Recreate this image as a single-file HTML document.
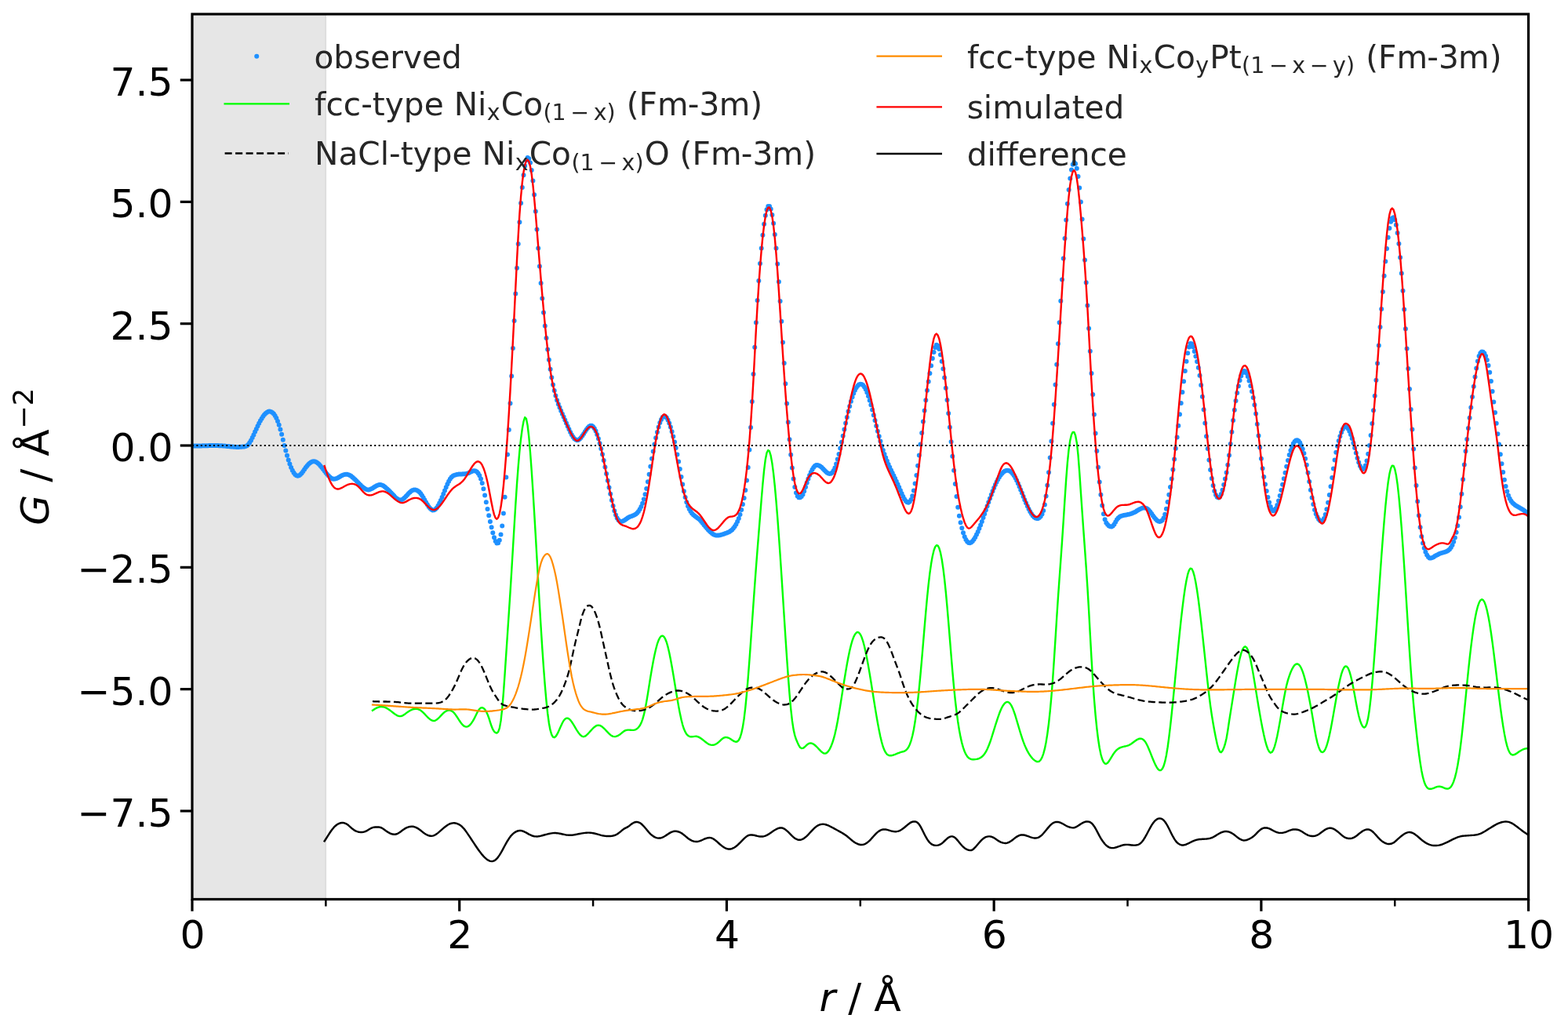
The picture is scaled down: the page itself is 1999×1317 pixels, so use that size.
<!DOCTYPE html>
<html lang="en"><head><meta charset="utf-8"><title>PDF fit</title>
<style>html,body{margin:0;padding:0;background:#fff}body{width:1999px;height:1317px;overflow:hidden}svg{display:block}text{font-family:"DejaVu Sans","Liberation Sans",sans-serif}</style>
</head><body>
<svg xmlns="http://www.w3.org/2000/svg" width="1999" height="1317" viewBox="0 0 1999 1317">
<rect width="1999" height="1317" fill="#fff"/>
<defs><clipPath id="ax"><rect x="245.0" y="18.0" width="1703.60" height="1128.50"/></clipPath></defs>
<rect x="245.0" y="18.0" width="170.36" height="1128.50" fill="#808080" fill-opacity="0.2"/>
<line x1="415.36" y1="18.0" x2="415.36" y2="1146.5" stroke="#808080" stroke-opacity="0.2" stroke-width="1.5"/>
<g clip-path="url(#ax)" fill="none" stroke-linejoin="round">
<path d="M245.0,568.3h.01M246.7,568.4h.01M248.4,568.4h.01M250.1,568.4h.01M251.8,568.4h.01M253.5,568.4h.01M255.2,568.4h.01M256.9,568.4h.01M258.6,568.3h.01M260.3,568.3h.01M262.0,568.3h.01M263.7,568.2h.01M265.4,568.2h.01M267.1,568.1h.01M268.9,568.1h.01M270.6,568.1h.01M272.3,568.1h.01M274.0,568.1h.01M275.7,568.1h.01M277.4,568.1h.01M279.1,568.2h.01M280.8,568.3h.01M282.5,568.3h.01M284.2,568.5h.01M285.9,568.6h.01M287.6,568.8h.01M289.3,568.9h.01M291.0,569.1h.01M292.7,569.3h.01M294.4,569.4h.01M296.1,569.6h.01M297.8,569.7h.01M299.5,569.8h.01M301.2,569.9h.01M302.9,569.9h.01M304.6,569.9h.01M306.3,569.8h.01M308.0,569.7h.01M309.7,569.6h.01M311.4,569.4h.01M313.1,569.1h.01M314.8,568.3h.01M316.6,566.7h.01M318.3,564.3h.01M320.0,561.4h.01M321.7,558.0h.01M323.4,554.4h.01M325.1,550.6h.01M326.8,546.9h.01M328.5,543.3h.01M330.2,539.8h.01M331.9,536.6h.01M333.6,533.7h.01M335.3,531.1h.01M337.0,528.8h.01M338.7,527.0h.01M340.4,525.7h.01M342.1,524.8h.01M343.8,524.6h.01M345.5,524.9h.01M347.2,525.9h.01M348.9,527.5h.01M350.6,529.9h.01M352.3,533.1h.01M354.0,537.1h.01M355.7,541.8h.01M357.4,547.4h.01M359.1,553.8h.01M360.8,560.8h.01M362.5,567.9h.01M364.3,574.6h.01M366.0,580.8h.01M367.7,586.5h.01M369.4,591.6h.01M371.1,596.0h.01M372.8,599.8h.01M374.5,602.8h.01M376.2,605.0h.01M377.9,606.3h.01M379.6,606.8h.01M381.3,606.3h.01M383.0,605.0h.01M384.7,603.2h.01M386.4,601.0h.01M388.1,598.6h.01M389.8,596.1h.01M391.5,593.9h.01M393.2,592.0h.01M394.9,590.4h.01M396.6,589.3h.01M398.3,588.5h.01M400.0,588.3h.01M401.7,588.5h.01M403.4,589.3h.01M405.1,590.5h.01M406.8,592.1h.01M408.5,594.0h.01M410.2,596.0h.01M412.0,598.2h.01M413.7,600.5h.01M415.4,602.7h.01M417.1,604.7h.01M418.8,606.6h.01M420.5,608.3h.01M422.2,609.6h.01M423.9,610.4h.01M425.6,610.8h.01M427.3,610.6h.01M429.0,610.0h.01M430.7,609.2h.01M432.4,608.2h.01M434.1,607.2h.01M435.8,606.3h.01M437.5,605.5h.01M439.2,605.0h.01M440.9,604.7h.01M442.6,604.8h.01M444.3,605.2h.01M446.0,606.0h.01M447.7,607.1h.01M449.4,608.4h.01M451.1,609.9h.01M452.8,611.5h.01M454.5,613.3h.01M456.2,615.1h.01M457.9,616.8h.01M459.7,618.6h.01M461.4,620.2h.01M463.1,621.6h.01M464.8,622.8h.01M466.5,623.7h.01M468.2,624.3h.01M469.9,624.4h.01M471.6,624.1h.01M473.3,623.3h.01M475.0,622.4h.01M476.7,621.3h.01M478.4,620.3h.01M480.1,619.3h.01M481.8,618.5h.01M483.5,618.1h.01M485.2,618.0h.01M486.9,618.5h.01M488.6,619.3h.01M490.3,620.5h.01M492.0,621.9h.01M493.7,623.4h.01M495.4,625.0h.01M497.1,626.7h.01M498.8,628.5h.01M500.5,630.3h.01M502.2,632.1h.01M503.9,633.9h.01M505.7,635.4h.01M507.4,636.6h.01M509.1,637.3h.01M510.8,637.4h.01M512.5,636.9h.01M514.2,635.9h.01M515.9,634.4h.01M517.6,632.7h.01M519.3,630.9h.01M521.0,629.1h.01M522.7,627.5h.01M524.4,626.1h.01M526.1,625.1h.01M527.8,624.5h.01M529.5,624.4h.01M531.2,624.9h.01M532.9,625.9h.01M534.6,627.3h.01M536.3,629.3h.01M538.0,631.7h.01M539.7,634.5h.01M541.4,637.5h.01M543.1,640.5h.01M544.8,643.3h.01M546.5,645.9h.01M548.2,648.1h.01M549.9,649.6h.01M551.6,650.4h.01M553.4,650.3h.01M555.1,649.3h.01M556.8,647.4h.01M558.5,644.7h.01M560.2,641.5h.01M561.9,637.9h.01M563.6,633.9h.01M565.3,629.7h.01M567.0,625.5h.01M568.7,621.3h.01M570.4,617.3h.01M572.1,613.8h.01M573.8,610.7h.01M575.5,608.4h.01M577.2,606.9h.01M578.9,606.0h.01M580.6,605.4h.01M582.3,605.0h.01M584.0,604.8h.01M585.7,604.6h.01M587.4,604.5h.01M589.1,604.4h.01M590.8,604.3h.01M592.5,604.2h.01M594.2,604.0h.01M595.9,603.6h.01M597.6,602.9h.01M599.3,602.1h.01M601.1,601.3h.01M602.8,600.6h.01M604.5,600.3h.01M606.2,600.6h.01M607.9,601.5h.01M609.6,603.4h.01M611.3,606.3h.01M613.0,610.5h.01M614.7,616.1h.01M616.4,623.3h.01M618.1,631.5h.01M619.8,640.3h.01M621.5,649.0h.01M623.2,657.2h.01M624.9,664.9h.01M626.6,672.2h.01M628.3,679.2h.01M630.0,685.3h.01M631.7,689.9h.01M633.4,692.5h.01M635.1,692.3h.01M636.8,688.8h.01M638.5,681.6h.01M640.2,670.4h.01M641.9,654.5h.01M643.6,633.8h.01M645.3,608.5h.01M647.0,579.6h.01M648.8,547.9h.01M650.5,514.3h.01M652.2,479.5h.01M653.9,444.1h.01M655.6,408.9h.01M657.3,374.5h.01M659.0,341.7h.01M660.7,311.0h.01M662.4,283.3h.01M664.1,259.1h.01M665.8,239.0h.01M667.5,223.2h.01M669.2,211.6h.01M670.9,204.2h.01M672.6,201.1h.01M674.3,202.2h.01M676.0,207.5h.01M677.7,216.9h.01M679.4,230.6h.01M681.1,248.3h.01M682.8,269.4h.01M684.5,292.6h.01M686.2,316.4h.01M687.9,339.5h.01M689.6,360.9h.01M691.3,380.5h.01M693.0,398.6h.01M694.8,415.4h.01M696.5,431.0h.01M698.2,445.5h.01M699.9,458.8h.01M701.6,470.8h.01M703.3,481.3h.01M705.0,490.4h.01M706.7,498.1h.01M708.4,504.6h.01M710.1,510.2h.01M711.8,515.2h.01M713.5,519.6h.01M715.2,523.8h.01M716.9,527.7h.01M718.6,531.6h.01M720.3,535.5h.01M722.0,539.5h.01M723.7,543.4h.01M725.4,547.3h.01M727.1,550.9h.01M728.8,554.2h.01M730.5,557.0h.01M732.2,559.2h.01M733.9,560.6h.01M735.6,561.2h.01M737.3,560.9h.01M739.0,559.7h.01M740.7,557.9h.01M742.5,555.6h.01M744.2,553.0h.01M745.9,550.3h.01M747.6,547.8h.01M749.3,545.5h.01M751.0,543.7h.01M752.7,542.7h.01M754.4,542.7h.01M756.1,543.9h.01M757.8,546.3h.01M759.5,549.6h.01M761.2,554.0h.01M762.9,559.2h.01M764.6,565.2h.01M766.3,571.9h.01M768.0,579.2h.01M769.7,587.1h.01M771.4,595.4h.01M773.1,604.0h.01M774.8,612.8h.01M776.5,621.5h.01M778.2,629.8h.01M779.9,637.7h.01M781.6,644.9h.01M783.3,651.3h.01M785.0,656.5h.01M786.7,660.4h.01M788.4,663.0h.01M790.2,664.5h.01M791.9,664.9h.01M793.6,664.6h.01M795.3,663.8h.01M797.0,662.7h.01M798.7,661.4h.01M800.4,660.2h.01M802.1,659.3h.01M803.8,658.6h.01M805.5,658.0h.01M807.2,657.3h.01M808.9,656.5h.01M810.6,655.4h.01M812.3,654.0h.01M814.0,652.0h.01M815.7,649.3h.01M817.4,646.0h.01M819.1,641.8h.01M820.8,636.6h.01M822.5,630.3h.01M824.2,622.9h.01M825.9,614.2h.01M827.6,604.7h.01M829.3,594.7h.01M831.0,584.8h.01M832.7,575.4h.01M834.4,566.5h.01M836.1,558.3h.01M837.9,550.9h.01M839.6,544.5h.01M841.3,539.1h.01M843.0,534.9h.01M844.7,532.1h.01M846.4,530.7h.01M848.1,530.9h.01M849.8,532.5h.01M851.5,535.5h.01M853.2,539.5h.01M854.9,544.5h.01M856.6,550.2h.01M858.3,556.6h.01M860.0,563.5h.01M861.7,571.1h.01M863.4,579.5h.01M865.1,588.5h.01M866.8,598.1h.01M868.5,607.9h.01M870.2,617.4h.01M871.9,626.2h.01M873.6,634.0h.01M875.3,640.2h.01M877.0,645.2h.01M878.7,649.1h.01M880.4,652.1h.01M882.1,654.4h.01M883.8,656.3h.01M885.6,657.8h.01M887.3,659.1h.01M889.0,660.3h.01M890.7,661.6h.01M892.4,663.1h.01M894.1,664.9h.01M895.8,667.0h.01M897.5,669.2h.01M899.2,671.3h.01M900.9,673.3h.01M902.6,675.2h.01M904.3,677.0h.01M906.0,678.6h.01M907.7,680.0h.01M909.4,681.2h.01M911.1,682.0h.01M912.8,682.5h.01M914.5,682.6h.01M916.2,682.5h.01M917.9,682.2h.01M919.6,681.7h.01M921.3,681.2h.01M923.0,680.7h.01M924.7,680.1h.01M926.4,679.5h.01M928.1,678.8h.01M929.8,678.0h.01M931.6,676.8h.01M933.3,675.4h.01M935.0,673.6h.01M936.7,671.3h.01M938.4,668.5h.01M940.1,665.1h.01M941.8,661.0h.01M943.5,656.0h.01M945.2,650.0h.01M946.9,643.0h.01M948.6,634.9h.01M950.3,625.1h.01M952.0,612.6h.01M953.7,595.9h.01M955.4,573.6h.01M957.1,545.0h.01M958.8,512.0h.01M960.5,477.1h.01M962.2,442.8h.01M963.9,411.3h.01M965.6,383.1h.01M967.3,358.1h.01M969.0,336.0h.01M970.7,316.6h.01M972.4,299.8h.01M974.1,285.8h.01M975.8,274.8h.01M977.5,267.2h.01M979.3,263.1h.01M981.0,262.9h.01M982.7,266.5h.01M984.4,273.9h.01M986.1,284.8h.01M987.8,299.1h.01M989.5,316.4h.01M991.2,336.6h.01M992.9,359.3h.01M994.6,383.9h.01M996.3,409.8h.01M998.0,436.4h.01M999.7,463.1h.01M1001.4,489.3h.01M1003.1,514.5h.01M1004.8,538.3h.01M1006.5,560.2h.01M1008.2,579.7h.01M1009.9,596.5h.01M1011.6,610.4h.01M1013.3,621.0h.01M1015.0,628.3h.01M1016.7,632.4h.01M1018.4,634.2h.01M1020.1,634.3h.01M1021.8,633.1h.01M1023.5,630.5h.01M1025.2,626.2h.01M1027.0,621.0h.01M1028.7,615.6h.01M1030.4,610.6h.01M1032.1,606.1h.01M1033.8,602.1h.01M1035.5,598.7h.01M1037.2,596.0h.01M1038.9,594.1h.01M1040.6,593.1h.01M1042.3,592.9h.01M1044.0,593.4h.01M1045.7,594.4h.01M1047.4,595.8h.01M1049.1,597.5h.01M1050.8,599.3h.01M1052.5,601.0h.01M1054.2,602.4h.01M1055.9,603.5h.01M1057.6,604.0h.01M1059.3,603.7h.01M1061.0,602.4h.01M1062.7,600.0h.01M1064.4,596.4h.01M1066.1,591.5h.01M1067.8,585.6h.01M1069.5,578.9h.01M1071.2,571.5h.01M1072.9,563.7h.01M1074.7,555.7h.01M1076.4,547.6h.01M1078.1,539.6h.01M1079.8,531.9h.01M1081.5,524.6h.01M1083.2,517.9h.01M1084.9,511.7h.01M1086.6,506.2h.01M1088.3,501.5h.01M1090.0,497.5h.01M1091.7,494.3h.01M1093.4,491.9h.01M1095.1,490.3h.01M1096.8,489.7h.01M1098.5,489.9h.01M1100.2,491.0h.01M1101.9,493.2h.01M1103.6,496.2h.01M1105.3,500.2h.01M1107.0,505.0h.01M1108.7,510.4h.01M1110.4,516.3h.01M1112.1,522.6h.01M1113.8,529.3h.01M1115.5,536.1h.01M1117.2,542.9h.01M1118.9,549.7h.01M1120.7,556.3h.01M1122.4,562.6h.01M1124.1,568.5h.01M1125.8,573.9h.01M1127.5,578.9h.01M1129.2,583.5h.01M1130.9,587.8h.01M1132.6,591.9h.01M1134.3,595.7h.01M1136.0,599.4h.01M1137.7,603.0h.01M1139.4,606.6h.01M1141.1,610.1h.01M1142.8,613.7h.01M1144.5,617.4h.01M1146.2,621.3h.01M1147.9,625.3h.01M1149.6,629.3h.01M1151.3,633.0h.01M1153.0,636.2h.01M1154.7,638.7h.01M1156.4,640.3h.01M1158.1,640.7h.01M1159.8,639.6h.01M1161.5,636.9h.01M1163.2,632.3h.01M1164.9,625.5h.01M1166.6,616.6h.01M1168.4,606.0h.01M1170.1,593.8h.01M1171.8,580.5h.01M1173.5,566.5h.01M1175.2,552.0h.01M1176.9,537.6h.01M1178.6,523.5h.01M1180.3,510.2h.01M1182.0,497.8h.01M1183.7,486.4h.01M1185.4,475.9h.01M1187.1,466.2h.01M1188.8,457.1h.01M1190.5,449.0h.01M1192.2,442.9h.01M1193.9,439.8h.01M1195.6,440.7h.01M1197.3,445.1h.01M1199.0,452.2h.01M1200.7,460.8h.01M1202.4,470.3h.01M1204.1,481.4h.01M1205.8,494.7h.01M1207.5,510.1h.01M1209.2,526.9h.01M1210.9,544.7h.01M1212.6,563.2h.01M1214.3,581.7h.01M1216.1,599.8h.01M1217.8,617.1h.01M1219.5,632.9h.01M1221.2,646.7h.01M1222.9,657.8h.01M1224.6,666.3h.01M1226.3,673.2h.01M1228.0,679.2h.01M1229.7,684.2h.01M1231.4,688.0h.01M1233.1,690.5h.01M1234.8,691.9h.01M1236.5,692.2h.01M1238.2,691.5h.01M1239.9,690.0h.01M1241.6,687.8h.01M1243.3,685.0h.01M1245.0,681.6h.01M1246.7,677.9h.01M1248.4,673.8h.01M1250.1,669.5h.01M1251.8,664.9h.01M1253.5,660.1h.01M1255.2,655.2h.01M1256.9,650.2h.01M1258.6,645.3h.01M1260.3,640.3h.01M1262.0,635.5h.01M1263.8,630.8h.01M1265.5,626.3h.01M1267.2,622.0h.01M1268.9,618.1h.01M1270.6,614.5h.01M1272.3,611.2h.01M1274.0,608.3h.01M1275.7,605.8h.01M1277.4,603.7h.01M1279.1,602.0h.01M1280.8,600.8h.01M1282.5,600.0h.01M1284.2,599.7h.01M1285.9,600.0h.01M1287.6,600.7h.01M1289.3,602.0h.01M1291.0,603.9h.01M1292.7,606.3h.01M1294.4,609.3h.01M1296.1,612.6h.01M1297.8,616.3h.01M1299.5,620.3h.01M1301.2,624.4h.01M1302.9,628.6h.01M1304.6,632.9h.01M1306.3,637.2h.01M1308.0,641.3h.01M1309.8,645.2h.01M1311.5,648.9h.01M1313.2,652.2h.01M1314.9,655.0h.01M1316.6,657.4h.01M1318.3,659.3h.01M1320.0,660.5h.01M1321.7,661.1h.01M1323.4,660.9h.01M1325.1,660.0h.01M1326.8,658.3h.01M1328.5,655.5h.01M1330.2,650.9h.01M1331.9,643.4h.01M1333.6,632.6h.01M1335.3,618.8h.01M1337.0,602.3h.01M1338.7,583.4h.01M1340.4,562.5h.01M1342.1,539.8h.01M1343.8,515.7h.01M1345.5,490.6h.01M1347.2,464.7h.01M1348.9,438.2h.01M1350.6,411.2h.01M1352.3,383.8h.01M1354.0,356.4h.01M1355.7,329.6h.01M1357.5,304.0h.01M1359.2,280.5h.01M1360.9,259.7h.01M1362.6,241.9h.01M1364.3,227.4h.01M1366.0,216.6h.01M1367.7,209.7h.01M1369.4,207.0h.01M1371.1,208.7h.01M1372.8,214.8h.01M1374.5,225.0h.01M1376.2,239.4h.01M1377.9,257.6h.01M1379.6,279.5h.01M1381.3,304.4h.01M1383.0,331.6h.01M1384.7,360.2h.01M1386.4,389.5h.01M1388.1,418.8h.01M1389.8,447.8h.01M1391.5,476.0h.01M1393.2,503.0h.01M1394.9,528.6h.01M1396.6,552.6h.01M1398.3,575.1h.01M1400.0,595.7h.01M1401.7,614.4h.01M1403.4,630.8h.01M1405.2,644.6h.01M1406.9,655.2h.01M1408.6,662.3h.01M1410.3,666.4h.01M1412.0,668.8h.01M1413.7,670.4h.01M1415.4,671.3h.01M1417.1,671.4h.01M1418.8,670.5h.01M1420.5,668.5h.01M1422.2,665.5h.01M1423.9,662.5h.01M1425.6,660.4h.01M1427.3,659.0h.01M1429.0,658.1h.01M1430.7,657.6h.01M1432.4,657.1h.01M1434.1,656.7h.01M1435.8,656.4h.01M1437.5,656.0h.01M1439.2,655.7h.01M1440.9,655.2h.01M1442.6,654.7h.01M1444.3,654.1h.01M1446.0,653.3h.01M1447.7,652.4h.01M1449.4,651.3h.01M1451.1,650.3h.01M1452.9,649.3h.01M1454.6,648.4h.01M1456.3,647.8h.01M1458.0,647.5h.01M1459.7,647.5h.01M1461.4,648.0h.01M1463.1,649.1h.01M1464.8,650.7h.01M1466.5,652.8h.01M1468.2,655.1h.01M1469.9,657.5h.01M1471.6,659.8h.01M1473.3,661.8h.01M1475.0,663.4h.01M1476.7,664.5h.01M1478.4,664.9h.01M1480.1,664.5h.01M1481.8,663.3h.01M1483.5,660.6h.01M1485.2,655.8h.01M1486.9,648.7h.01M1488.6,640.0h.01M1490.3,630.7h.01M1492.0,621.1h.01M1493.7,610.6h.01M1495.4,598.7h.01M1497.1,585.6h.01M1498.8,571.8h.01M1500.6,557.4h.01M1502.3,542.8h.01M1504.0,528.3h.01M1505.7,513.9h.01M1507.4,499.9h.01M1509.1,486.2h.01M1510.8,473.1h.01M1512.5,460.8h.01M1514.2,450.3h.01M1515.9,442.5h.01M1517.6,438.1h.01M1519.3,438.2h.01M1521.0,442.2h.01M1522.7,448.0h.01M1524.4,454.2h.01M1526.1,461.1h.01M1527.8,468.8h.01M1529.5,478.7h.01M1531.2,491.0h.01M1532.9,505.7h.01M1534.6,522.2h.01M1536.3,539.4h.01M1538.0,556.3h.01M1539.7,572.1h.01M1541.4,586.4h.01M1543.1,599.1h.01M1544.8,610.0h.01M1546.6,619.0h.01M1548.3,625.9h.01M1550.0,630.9h.01M1551.7,633.8h.01M1553.4,634.6h.01M1555.1,633.4h.01M1556.8,630.0h.01M1558.5,624.7h.01M1560.2,618.0h.01M1561.9,610.6h.01M1563.6,602.5h.01M1565.3,592.7h.01M1567.0,580.4h.01M1568.7,566.0h.01M1570.4,550.8h.01M1572.1,536.0h.01M1573.8,522.8h.01M1575.5,511.1h.01M1577.2,501.0h.01M1578.9,492.3h.01M1580.6,485.1h.01M1582.3,479.3h.01M1584.0,475.2h.01M1585.7,473.1h.01M1587.4,473.3h.01M1589.1,475.8h.01M1590.8,480.1h.01M1592.5,485.6h.01M1594.3,491.9h.01M1596.0,498.9h.01M1597.7,506.9h.01M1599.4,516.3h.01M1601.1,527.5h.01M1602.8,540.8h.01M1604.5,555.5h.01M1606.2,570.5h.01M1607.9,584.7h.01M1609.6,597.2h.01M1611.3,608.1h.01M1613.0,617.6h.01M1614.7,626.1h.01M1616.4,633.9h.01M1618.1,640.6h.01M1619.8,646.0h.01M1621.5,649.7h.01M1623.2,651.4h.01M1624.9,650.9h.01M1626.6,648.2h.01M1628.3,644.0h.01M1630.0,638.4h.01M1631.7,631.9h.01M1633.4,624.9h.01M1635.1,617.7h.01M1636.8,610.3h.01M1638.5,602.7h.01M1640.2,594.8h.01M1642.0,587.1h.01M1643.7,580.1h.01M1645.4,574.2h.01M1647.1,569.4h.01M1648.8,565.6h.01M1650.5,563.0h.01M1652.2,561.6h.01M1653.9,561.3h.01M1655.6,562.3h.01M1657.3,564.5h.01M1659.0,567.9h.01M1660.7,572.4h.01M1662.4,578.0h.01M1664.1,584.7h.01M1665.8,592.8h.01M1667.5,602.8h.01M1669.2,613.9h.01M1670.9,624.8h.01M1672.6,634.6h.01M1674.3,643.1h.01M1676.0,650.0h.01M1677.7,655.2h.01M1679.4,659.1h.01M1681.1,661.9h.01M1682.8,663.7h.01M1684.5,664.5h.01M1686.2,663.8h.01M1687.9,661.0h.01M1689.7,656.1h.01M1691.4,649.2h.01M1693.1,640.7h.01M1694.8,631.0h.01M1696.5,620.2h.01M1698.2,608.9h.01M1699.9,597.4h.01M1701.6,586.5h.01M1703.3,576.7h.01M1705.0,568.7h.01M1706.7,562.1h.01M1708.4,556.3h.01M1710.1,551.3h.01M1711.8,547.3h.01M1713.5,544.8h.01M1715.2,543.9h.01M1716.9,544.6h.01M1718.6,546.6h.01M1720.3,549.7h.01M1722.0,553.9h.01M1723.7,559.0h.01M1725.4,564.8h.01M1727.1,571.1h.01M1728.8,577.6h.01M1730.5,583.9h.01M1732.2,589.5h.01M1733.9,594.1h.01M1735.6,597.1h.01M1737.4,598.2h.01M1739.1,597.1h.01M1740.8,593.6h.01M1742.5,587.5h.01M1744.2,578.8h.01M1745.9,567.9h.01M1747.6,554.9h.01M1749.3,540.0h.01M1751.0,523.2h.01M1752.7,504.8h.01M1754.4,484.7h.01M1756.1,463.2h.01M1757.8,440.4h.01M1759.5,417.1h.01M1761.2,394.0h.01M1762.9,371.9h.01M1764.6,351.7h.01M1766.3,333.3h.01M1768.0,317.0h.01M1769.7,302.7h.01M1771.4,291.1h.01M1773.1,282.8h.01M1774.8,278.2h.01M1776.5,277.3h.01M1778.2,280.2h.01M1779.9,286.7h.01M1781.6,296.9h.01M1783.4,310.8h.01M1785.1,328.2h.01M1786.8,348.4h.01M1788.5,370.8h.01M1790.2,394.6h.01M1791.9,419.3h.01M1793.6,444.5h.01M1795.3,470.1h.01M1797.0,495.9h.01M1798.7,521.9h.01M1800.4,547.6h.01M1802.1,572.6h.01M1803.8,596.5h.01M1805.5,618.9h.01M1807.2,639.3h.01M1808.9,657.2h.01M1810.6,672.3h.01M1812.3,684.1h.01M1814.0,692.6h.01M1815.7,698.8h.01M1817.4,703.7h.01M1819.1,707.5h.01M1820.8,710.1h.01M1822.5,711.4h.01M1824.2,711.6h.01M1825.9,711.1h.01M1827.6,710.2h.01M1829.3,709.1h.01M1831.1,708.1h.01M1832.8,707.2h.01M1834.5,706.3h.01M1836.2,705.6h.01M1837.9,704.9h.01M1839.6,704.4h.01M1841.3,703.9h.01M1843.0,703.5h.01M1844.7,702.8h.01M1846.4,701.8h.01M1848.1,700.2h.01M1849.8,698.0h.01M1851.5,694.9h.01M1853.2,690.7h.01M1854.9,685.4h.01M1856.6,678.7h.01M1858.3,670.3h.01M1860.0,659.6h.01M1861.7,646.2h.01M1863.4,629.7h.01M1865.1,611.2h.01M1866.8,592.5h.01M1868.5,575.2h.01M1870.2,559.9h.01M1871.9,545.9h.01M1873.6,532.7h.01M1875.3,519.5h.01M1877.0,506.1h.01M1878.8,492.8h.01M1880.5,480.4h.01M1882.2,469.4h.01M1883.9,460.5h.01M1885.6,454.1h.01M1887.3,450.2h.01M1889.0,448.5h.01M1890.7,448.7h.01M1892.4,450.6h.01M1894.1,454.0h.01M1895.8,459.0h.01M1897.5,465.9h.01M1899.2,474.8h.01M1900.9,485.9h.01M1902.6,498.9h.01M1904.3,512.5h.01M1906.0,526.0h.01M1907.7,539.7h.01M1909.4,553.2h.01M1911.1,566.5h.01M1912.8,579.2h.01M1914.5,591.2h.01M1916.2,602.1h.01M1917.9,611.8h.01M1919.6,620.1h.01M1921.3,626.6h.01M1923.0,631.8h.01M1924.7,635.7h.01M1926.5,638.7h.01M1928.2,640.9h.01M1929.9,642.5h.01M1931.6,643.9h.01M1933.3,645.1h.01M1935.0,646.1h.01M1936.7,647.1h.01M1938.4,648.1h.01M1940.1,649.0h.01M1941.8,650.1h.01M1943.5,651.3h.01M1945.2,652.6h.01M1946.9,654.1h.01M1948.6,655.9h.01" stroke="#1E90FF" stroke-width="6.0" stroke-linecap="round"/>
<path d="M474.99,905.82 476.69,904.62 478.39,903.53 480.10,902.59 481.80,901.83 483.50,901.28 485.21,900.98 486.91,900.95 488.61,901.20 490.32,901.70 492.02,902.42 493.73,903.33 495.43,904.40 497.13,905.60 498.84,906.89 500.54,908.24 502.24,909.56 503.95,910.78 505.65,911.83 507.35,912.62 509.06,913.08 510.76,913.14 512.47,912.72 514.17,911.85 515.87,910.69 517.58,909.41 519.28,908.15 520.98,907.00 522.69,905.98 524.39,905.12 526.09,904.44 527.80,903.98 529.50,903.75 531.20,903.79 532.91,904.12 534.61,904.76 536.32,905.75 538.02,907.08 539.72,908.67 541.43,910.43 543.13,912.25 544.83,914.04 546.54,915.69 548.24,917.11 549.94,918.21 551.65,918.87 553.35,919.01 555.06,918.55 556.76,917.55 558.46,916.15 560.17,914.49 561.87,912.68 563.57,910.86 565.28,909.16 566.98,907.72 568.68,906.61 570.39,905.88 572.09,905.55 573.79,905.66 575.50,906.25 577.20,907.34 578.91,908.96 580.61,911.08 582.31,913.53 584.02,916.15 585.72,918.78 587.42,921.27 589.13,923.43 590.83,925.12 592.53,926.21 594.24,926.66 595.94,926.43 597.65,925.53 599.35,924.02 601.05,921.94 602.76,919.36 604.46,916.34 606.16,912.93 607.87,909.40 609.57,906.22 611.27,903.84 612.98,902.48 614.68,902.15 616.38,902.81 618.09,904.47 619.79,907.09 621.50,910.68 623.20,915.21 624.90,920.54 626.61,925.82 628.31,929.95 630.01,932.58 631.72,934.04 633.42,934.54 635.12,933.13 636.83,928.39 638.53,918.89 640.24,903.40 641.94,882.64 643.64,858.51 645.35,832.93 647.05,807.48 648.75,782.03 650.46,755.95 652.16,728.64 653.86,700.18 655.57,671.53 657.27,643.75 658.97,617.86 660.68,594.91 662.38,575.46 664.09,559.44 665.79,546.75 667.49,537.27 669.20,532.02 670.90,533.75 672.60,542.51 674.31,557.21 676.01,576.73 677.71,599.97 679.42,625.84 681.12,653.61 682.83,682.67 684.53,712.45 686.23,742.35 687.94,771.77 689.64,800.13 691.34,826.85 693.05,851.48 694.75,873.67 696.45,893.04 698.16,909.25 699.86,921.92 701.56,930.92 703.27,936.65 704.97,939.58 706.68,940.21 708.38,939.03 710.08,936.50 711.79,933.13 713.49,929.30 715.19,925.39 716.90,921.77 718.60,918.78 720.30,916.74 722.01,915.70 723.71,915.64 725.42,916.49 727.12,918.08 728.82,920.25 730.53,922.84 732.23,925.65 733.93,928.54 735.64,931.33 737.34,933.90 739.04,936.11 740.75,937.84 742.45,938.93 744.15,939.21 745.86,938.67 747.56,937.48 749.27,935.87 750.97,934.04 752.67,932.14 754.38,930.25 756.08,928.48 757.78,926.93 759.49,925.70 761.19,924.88 762.89,924.58 764.60,924.86 766.30,925.64 768.01,926.82 769.71,928.31 771.41,930.01 773.12,931.82 774.82,933.65 776.52,935.39 778.23,936.92 779.93,938.12 781.63,938.87 783.34,939.14 785.04,938.97 786.74,938.43 788.45,937.57 790.15,936.44 791.86,935.11 793.56,933.71 795.26,932.41 796.97,931.41 798.67,930.84 800.37,930.60 802.08,930.60 803.78,930.71 805.48,930.83 807.19,930.83 808.89,930.60 810.60,930.03 812.30,929.00 814.00,927.40 815.71,925.08 817.41,921.81 819.11,917.35 820.82,911.44 822.52,903.84 824.22,894.63 825.93,884.37 827.63,873.64 829.33,863.02 831.04,852.90 832.74,843.48 834.45,834.93 836.15,827.44 837.85,821.19 839.56,816.34 841.26,812.94 842.96,811.03 844.67,810.62 846.37,811.76 848.07,814.47 849.78,818.77 851.48,824.67 853.19,831.97 854.89,840.41 856.59,849.73 858.30,859.67 860.00,869.98 861.70,880.38 863.41,890.60 865.11,900.35 866.81,909.37 868.52,917.37 870.22,924.08 871.92,929.33 873.63,933.24 875.33,936.01 877.04,937.81 878.74,938.84 880.44,939.27 882.15,939.30 883.85,939.11 885.55,938.88 887.26,938.79 888.96,939.04 890.66,939.66 892.37,940.58 894.07,941.73 895.78,943.04 897.48,944.41 899.18,945.78 900.89,947.06 902.59,948.19 904.29,949.08 906.00,949.66 907.70,949.89 909.40,949.79 911.11,949.35 912.81,948.60 914.51,947.54 916.22,946.18 917.92,944.57 919.63,942.92 921.33,941.49 923.03,940.51 924.74,940.07 926.44,940.09 928.14,940.51 929.85,941.25 931.55,942.25 933.25,943.41 934.96,944.56 936.66,945.43 938.37,945.75 940.07,945.27 941.77,943.62 943.48,940.34 945.18,934.98 946.88,927.08 948.59,916.19 950.29,901.89 951.99,884.37 953.70,864.23 955.40,842.08 957.10,818.55 958.81,794.25 960.51,769.79 962.22,745.79 963.92,722.83 965.62,700.87 967.33,679.44 969.03,658.08 970.73,636.74 972.44,616.62 974.14,599.11 975.84,585.64 977.55,577.29 979.25,573.98 980.96,575.31 982.66,580.92 984.36,590.40 986.07,603.38 987.77,619.47 989.47,638.28 991.18,659.42 992.88,682.49 994.58,707.10 996.29,732.85 997.99,759.30 999.69,786.00 1001.40,812.49 1003.10,838.21 1004.81,862.44 1006.51,884.46 1008.21,903.54 1009.92,918.96 1011.62,930.12 1013.32,937.63 1015.03,942.76 1016.73,946.78 1018.43,950.45 1020.14,953.04 1021.84,954.09 1023.55,953.90 1025.25,952.86 1026.95,951.34 1028.66,949.71 1030.36,948.36 1032.06,947.61 1033.77,947.48 1035.47,947.89 1037.17,948.76 1038.88,949.99 1040.58,951.51 1042.28,953.24 1043.99,955.08 1045.69,956.92 1047.40,958.58 1049.10,959.87 1050.80,960.60 1052.51,960.59 1054.21,959.67 1055.91,957.89 1057.62,955.29 1059.32,951.88 1061.02,947.56 1062.73,942.24 1064.43,935.82 1066.14,928.21 1067.84,919.46 1069.54,909.81 1071.25,899.52 1072.95,888.83 1074.65,878.00 1076.36,867.30 1078.06,856.95 1079.76,847.14 1081.47,838.04 1083.17,829.84 1084.87,822.71 1086.58,816.78 1088.28,812.11 1089.99,808.72 1091.69,806.66 1093.39,805.96 1095.10,806.65 1096.80,808.76 1098.50,812.33 1100.21,817.37 1101.91,823.74 1103.61,831.28 1105.32,839.79 1107.02,849.12 1108.73,859.09 1110.43,869.51 1112.13,880.19 1113.84,890.94 1115.54,901.57 1117.24,911.88 1118.95,921.68 1120.65,930.78 1122.35,939.00 1124.06,946.12 1125.76,951.97 1127.46,956.41 1129.17,959.57 1130.87,961.64 1132.58,962.81 1134.28,963.30 1135.98,963.29 1137.69,962.97 1139.39,962.48 1141.09,961.86 1142.80,961.17 1144.50,960.46 1146.20,959.77 1147.91,959.17 1149.61,958.70 1151.32,958.28 1153.02,957.70 1154.72,956.73 1156.43,955.14 1158.13,952.72 1159.83,949.21 1161.54,944.39 1163.24,938.03 1164.94,929.90 1166.65,919.82 1168.35,907.79 1170.05,893.84 1171.76,877.98 1173.46,860.25 1175.17,840.96 1176.87,820.79 1178.57,800.45 1180.28,780.62 1181.98,762.01 1183.68,745.32 1185.39,730.90 1187.09,718.83 1188.79,709.16 1190.50,701.95 1192.20,697.26 1193.91,695.14 1195.61,695.64 1197.31,698.80 1199.02,704.67 1200.72,713.30 1202.42,724.71 1204.13,738.73 1205.83,755.17 1207.53,773.78 1209.24,793.98 1210.94,814.96 1212.64,835.99 1214.35,856.36 1216.05,875.34 1217.76,892.26 1219.46,907.00 1221.16,919.71 1222.87,930.53 1224.57,939.62 1226.27,947.13 1227.98,953.20 1229.68,958.00 1231.38,961.66 1233.09,964.34 1234.79,966.19 1236.50,967.35 1238.20,967.97 1239.90,968.20 1241.61,968.19 1243.31,968.08 1245.01,967.87 1246.72,967.50 1248.42,966.91 1250.12,966.03 1251.83,964.80 1253.53,963.14 1255.23,961.01 1256.94,958.33 1258.64,955.04 1260.35,951.08 1262.05,946.53 1263.75,941.52 1265.46,936.20 1267.16,930.71 1268.86,925.19 1270.57,919.77 1272.27,914.60 1273.97,909.81 1275.68,905.52 1277.38,901.86 1279.09,898.91 1280.79,896.73 1282.49,895.37 1284.20,894.90 1285.90,895.37 1287.60,896.84 1289.31,899.36 1291.01,902.93 1292.71,907.38 1294.42,912.48 1296.12,918.05 1297.82,923.86 1299.53,929.72 1301.23,935.41 1302.94,940.73 1304.64,945.57 1306.34,949.95 1308.05,953.87 1309.75,957.35 1311.45,960.42 1313.16,963.09 1314.86,965.38 1316.56,967.30 1318.27,968.88 1319.97,970.14 1321.68,970.97 1323.38,971.17 1325.08,970.51 1326.79,968.75 1328.49,965.67 1330.19,961.05 1331.90,954.65 1333.60,946.24 1335.30,935.60 1337.01,922.50 1338.71,906.70 1340.41,887.99 1342.12,866.13 1343.82,841.15 1345.53,814.32 1347.23,787.23 1348.93,761.46 1350.64,737.39 1352.34,713.92 1354.04,689.86 1355.75,664.13 1357.45,637.41 1359.15,611.92 1360.86,589.92 1362.56,573.14 1364.27,561.42 1365.97,554.20 1367.67,550.88 1369.38,551.02 1371.08,555.20 1372.78,564.46 1374.49,579.85 1376.19,601.91 1377.89,627.31 1379.60,652.01 1381.30,675.80 1383.00,699.36 1384.71,723.33 1386.41,749.07 1388.12,778.28 1389.82,809.32 1391.52,839.85 1393.23,867.58 1394.93,891.49 1396.63,911.79 1398.34,928.72 1400.04,942.54 1401.74,953.48 1403.45,961.80 1405.15,967.74 1406.86,971.54 1408.56,973.45 1410.26,973.72 1411.97,972.65 1413.67,970.61 1415.37,967.96 1417.08,965.08 1418.78,962.30 1420.48,959.82 1422.19,957.68 1423.89,955.97 1425.59,954.65 1427.30,953.65 1429.00,952.91 1430.71,952.36 1432.41,951.92 1434.11,951.54 1435.82,951.14 1437.52,950.65 1439.22,950.02 1440.93,949.16 1442.63,948.06 1444.33,946.81 1446.04,945.50 1447.74,944.24 1449.45,943.13 1451.15,942.26 1452.85,941.75 1454.56,941.69 1456.26,942.19 1457.96,943.33 1459.67,945.23 1461.37,947.94 1463.07,951.33 1464.78,955.20 1466.48,959.40 1468.18,963.72 1469.89,968.00 1471.59,972.05 1473.30,975.69 1475.00,978.75 1476.70,980.98 1478.41,982.13 1480.11,981.96 1481.81,980.21 1483.52,976.63 1485.22,970.95 1486.92,962.95 1488.63,952.49 1490.33,939.91 1492.04,925.56 1493.74,909.84 1495.44,893.12 1497.15,875.78 1498.85,858.15 1500.55,840.53 1502.26,823.18 1503.96,806.38 1505.66,790.40 1507.37,775.52 1509.07,762.01 1510.77,750.15 1512.48,740.21 1514.18,732.46 1515.89,727.19 1517.59,724.66 1519.29,725.12 1521.00,728.45 1522.70,734.37 1524.40,742.59 1526.11,752.82 1527.81,764.76 1529.51,778.12 1531.22,792.62 1532.92,807.96 1534.63,823.85 1536.33,839.99 1538.03,856.09 1539.74,871.73 1541.44,886.46 1543.14,899.80 1544.85,911.57 1546.55,922.04 1548.25,931.54 1549.96,940.37 1551.66,948.24 1553.36,954.46 1555.07,958.33 1556.77,959.19 1558.48,957.25 1560.18,953.52 1561.88,948.50 1563.59,941.32 1565.29,931.21 1566.99,919.78 1568.70,908.89 1570.40,898.35 1572.10,887.67 1573.81,876.90 1575.51,866.37 1577.22,856.38 1578.92,847.26 1580.62,839.32 1582.33,832.87 1584.03,828.16 1585.73,825.28 1587.44,824.33 1589.14,825.41 1590.84,828.59 1592.55,833.89 1594.25,841.00 1595.95,849.55 1597.66,859.14 1599.36,869.40 1601.07,879.93 1602.77,890.42 1604.47,900.70 1606.18,910.64 1607.88,920.11 1609.58,928.98 1611.29,937.12 1612.99,944.36 1614.69,950.48 1616.40,955.24 1618.10,958.40 1619.81,959.72 1621.51,959.01 1623.21,956.32 1624.92,951.83 1626.62,945.71 1628.32,938.18 1630.03,929.54 1631.73,920.09 1633.43,910.16 1635.14,900.14 1636.84,890.42 1638.54,881.44 1640.25,873.59 1641.95,867.14 1643.66,861.80 1645.36,857.24 1647.06,853.39 1648.77,850.31 1650.47,848.07 1652.17,846.75 1653.88,846.40 1655.58,847.11 1657.28,848.95 1658.99,851.97 1660.69,856.16 1662.40,861.43 1664.10,867.67 1665.80,874.77 1667.51,882.63 1669.21,891.14 1670.91,900.20 1672.62,909.77 1674.32,919.86 1676.02,930.12 1677.73,939.23 1679.43,946.73 1681.13,952.52 1682.84,956.53 1684.54,958.71 1686.25,959.14 1687.95,957.90 1689.65,955.07 1691.36,950.73 1693.06,944.95 1694.76,937.84 1696.47,929.64 1698.17,920.64 1699.87,911.13 1701.58,901.38 1703.28,891.71 1704.99,882.38 1706.69,873.69 1708.39,865.93 1710.10,859.38 1711.80,854.33 1713.50,850.99 1715.21,849.43 1716.91,849.69 1718.61,851.83 1720.32,855.89 1722.02,861.72 1723.72,869.00 1725.43,877.42 1727.13,886.60 1728.84,895.95 1730.54,904.81 1732.24,912.55 1733.95,918.65 1735.65,923.21 1737.35,926.33 1739.06,927.61 1740.76,926.57 1742.46,922.74 1744.17,915.65 1745.87,904.84 1747.58,890.23 1749.28,872.42 1750.98,852.08 1752.69,829.88 1754.39,806.39 1756.09,782.09 1757.80,757.45 1759.50,732.94 1761.20,709.02 1762.91,686.17 1764.61,664.84 1766.31,645.50 1768.02,628.63 1769.72,614.69 1771.43,604.11 1773.13,597.05 1774.83,593.61 1776.54,593.88 1778.24,597.96 1779.94,605.94 1781.65,617.66 1783.35,632.83 1785.05,651.16 1786.76,672.34 1788.46,696.05 1790.17,721.73 1791.87,748.68 1793.57,776.19 1795.28,803.54 1796.98,830.05 1798.68,854.98 1800.39,877.64 1802.09,897.64 1803.79,915.39 1805.50,931.43 1807.20,946.27 1808.90,960.04 1810.61,972.32 1812.31,982.69 1814.02,990.93 1815.72,997.02 1817.42,1001.22 1819.13,1003.86 1820.83,1005.29 1822.53,1005.82 1824.24,1005.80 1825.94,1005.42 1827.64,1004.81 1829.35,1004.11 1831.05,1003.43 1832.76,1002.90 1834.46,1002.66 1836.16,1002.79 1837.87,1003.23 1839.57,1003.88 1841.27,1004.61 1842.98,1005.27 1844.68,1005.65 1846.38,1005.54 1848.09,1004.72 1849.79,1003.06 1851.49,1000.36 1853.20,996.44 1854.90,991.11 1856.61,984.25 1858.31,975.75 1860.01,965.48 1861.72,953.35 1863.42,939.29 1865.12,923.63 1866.83,906.89 1868.53,889.57 1870.23,872.18 1871.94,855.24 1873.64,839.23 1875.35,824.47 1877.05,811.07 1878.75,799.15 1880.46,788.84 1882.16,780.25 1883.86,773.48 1885.57,768.53 1887.27,765.44 1888.97,764.21 1890.68,764.85 1892.38,767.40 1894.08,771.85 1895.79,778.17 1897.49,786.21 1899.20,795.80 1900.90,806.76 1902.60,818.92 1904.31,832.10 1906.01,845.98 1907.71,860.23 1909.42,874.51 1911.12,888.48 1912.82,901.80 1914.53,914.23 1916.23,925.57 1917.94,935.63 1919.64,944.22 1921.34,951.16 1923.05,956.28 1924.75,959.69 1926.45,961.68 1928.16,962.50 1929.86,962.42 1931.56,961.71 1933.27,960.64 1934.97,959.46 1936.67,958.31 1938.38,957.22 1940.08,956.24 1941.79,955.42 1943.49,954.78 1945.19,954.39 1946.90,954.28 1948.60,954.48 1950.30,954.55 1952.01,954.55" stroke="#00FF00" stroke-width="2.4" stroke-linecap="square"/>
<path d="M474.99,894.18 476.69,894.28 478.39,894.36 480.10,894.42 481.80,894.46 483.50,894.49 485.21,894.50 486.91,894.51 488.61,894.51 490.32,894.51 492.02,894.52 493.73,894.53 495.43,894.54 497.13,894.58 498.84,894.62 500.54,894.69 502.24,894.78 503.95,894.90 505.65,895.04 507.35,895.21 509.06,895.40 510.76,895.59 512.47,895.79 514.17,895.98 515.87,896.16 517.58,896.32 519.28,896.46 520.98,896.56 522.69,896.63 524.39,896.67 526.09,896.68 527.80,896.68 529.50,896.66 531.20,896.63 532.91,896.59 534.61,896.56 536.32,896.53 538.02,896.51 539.72,896.51 541.43,896.53 543.13,896.57 544.83,896.61 546.54,896.65 548.24,896.69 549.94,896.71 551.65,896.71 553.35,896.67 555.06,896.60 556.76,896.47 558.46,896.28 560.17,895.98 561.87,895.51 563.57,894.85 565.28,893.93 566.98,892.73 568.68,891.22 570.39,889.37 572.09,887.16 573.79,884.64 575.50,881.85 577.20,878.84 578.91,875.63 580.61,872.17 582.31,868.43 584.02,864.43 585.72,860.34 587.42,856.37 589.13,852.75 590.83,849.58 592.53,846.83 594.24,844.51 595.94,842.58 597.65,841.04 599.35,839.88 601.05,839.10 602.76,838.73 604.46,838.87 606.16,839.57 607.87,840.83 609.57,842.61 611.27,844.92 612.98,847.72 614.68,851.00 616.38,854.71 618.09,858.72 619.79,862.92 621.50,867.16 623.20,871.33 624.90,875.27 626.61,878.85 628.31,881.99 630.01,884.79 631.72,887.42 633.42,889.99 635.12,892.48 636.83,894.74 638.53,896.60 640.24,897.95 641.94,898.87 643.64,899.48 645.35,899.90 647.05,900.24 648.75,900.59 650.46,900.94 652.16,901.29 653.86,901.63 655.57,901.96 657.27,902.27 658.97,902.57 660.68,902.85 662.38,903.11 664.09,903.36 665.79,903.59 667.49,903.81 669.20,904.01 670.90,904.20 672.60,904.36 674.31,904.49 676.01,904.57 677.71,904.61 679.42,904.59 681.12,904.50 682.83,904.35 684.53,904.14 686.23,903.89 687.94,903.61 689.64,903.30 691.34,902.99 693.05,902.66 694.75,902.27 696.45,901.81 698.16,901.23 699.86,900.50 701.56,899.59 703.27,898.48 704.97,897.15 706.68,895.59 708.38,893.79 710.08,891.72 711.79,889.33 713.49,886.58 715.19,883.40 716.90,879.77 718.60,875.75 720.30,871.38 722.01,866.69 723.71,861.46 725.42,855.39 727.12,848.25 728.82,840.39 730.53,832.37 732.23,824.60 733.93,817.29 735.64,810.47 737.34,803.72 739.04,796.65 740.75,789.73 742.45,783.83 744.15,779.30 745.86,775.97 747.56,773.65 749.27,772.26 750.97,771.79 752.67,772.21 754.38,773.52 756.08,775.73 757.78,778.82 759.49,782.77 761.19,787.55 762.89,793.14 764.60,799.60 766.30,806.95 768.01,814.78 769.71,822.59 771.41,830.23 773.12,837.87 774.82,845.60 776.52,853.23 778.23,860.55 779.93,867.31 781.63,873.22 783.34,878.25 785.04,882.64 786.74,886.61 788.45,890.22 790.15,893.40 791.86,896.05 793.56,898.19 795.26,899.90 796.97,901.29 798.67,902.42 800.37,903.39 802.08,904.22 803.78,904.90 805.48,905.44 807.19,905.86 808.89,906.14 810.60,906.30 812.30,906.35 814.00,906.28 815.71,906.11 817.41,905.85 819.11,905.49 820.82,905.05 822.52,904.51 824.22,903.87 825.93,903.13 827.63,902.27 829.33,901.28 831.04,900.16 832.74,898.94 834.45,897.61 836.15,896.20 837.85,894.71 839.56,893.18 841.26,891.65 842.96,890.15 844.67,888.73 846.37,887.42 848.07,886.24 849.78,885.17 851.48,884.23 853.19,883.39 854.89,882.67 856.59,882.04 858.30,881.52 860.00,881.08 861.70,880.73 863.41,880.50 865.11,880.43 866.81,880.57 868.52,880.90 870.22,881.41 871.92,882.04 873.63,882.76 875.33,883.58 877.04,884.51 878.74,885.58 880.44,886.78 882.15,888.13 883.85,889.60 885.55,891.15 887.26,892.74 888.96,894.35 890.66,895.94 892.37,897.48 894.07,898.94 895.78,900.29 897.48,901.51 899.18,902.59 900.89,903.53 902.59,904.33 904.29,905.00 906.00,905.54 907.70,905.96 909.40,906.27 911.11,906.47 912.81,906.57 914.51,906.57 916.22,906.45 917.92,906.17 919.63,905.72 921.33,905.06 923.03,904.21 924.74,903.17 926.44,901.94 928.14,900.55 929.85,899.01 931.55,897.34 933.25,895.60 934.96,893.81 936.66,892.01 938.37,890.23 940.07,888.49 941.77,886.80 943.48,885.17 945.18,883.61 946.88,882.14 948.59,880.80 950.29,879.61 951.99,878.60 953.70,877.79 955.40,877.18 957.10,876.76 958.81,876.53 960.51,876.47 962.22,876.57 963.92,876.86 965.62,877.33 967.33,878.01 969.03,878.89 970.73,879.98 972.44,881.24 974.14,882.62 975.84,884.09 977.55,885.61 979.25,887.16 980.96,888.68 982.66,890.15 984.36,891.54 986.07,892.82 987.77,893.98 989.47,895.03 991.18,895.95 992.88,896.77 994.58,897.45 996.29,897.99 997.99,898.35 999.69,898.52 1001.40,898.46 1003.10,898.16 1004.81,897.60 1006.51,896.76 1008.21,895.63 1009.92,894.20 1011.62,892.49 1013.32,890.54 1015.03,888.36 1016.73,886.01 1018.43,883.51 1020.14,880.92 1021.84,878.31 1023.55,875.74 1025.25,873.25 1026.95,870.90 1028.66,868.70 1030.36,866.66 1032.06,864.81 1033.77,863.16 1035.47,861.69 1037.17,860.42 1038.88,859.31 1040.58,858.35 1042.28,857.56 1043.99,856.94 1045.69,856.53 1047.40,856.35 1049.10,856.44 1050.80,856.80 1052.51,857.43 1054.21,858.34 1055.91,859.50 1057.62,860.85 1059.32,862.34 1061.02,863.93 1062.73,865.58 1064.43,867.27 1066.14,869.00 1067.84,870.75 1069.54,872.50 1071.25,874.19 1072.95,875.71 1074.65,876.96 1076.36,877.84 1078.06,878.32 1079.76,878.48 1081.47,878.40 1083.17,878.02 1084.87,877.17 1086.58,875.69 1088.28,873.40 1089.99,870.29 1091.69,866.57 1093.39,862.42 1095.10,857.99 1096.80,853.37 1098.50,848.65 1100.21,843.93 1101.91,839.29 1103.61,834.84 1105.32,830.67 1107.02,826.86 1108.73,823.49 1110.43,820.62 1112.13,818.30 1113.84,816.48 1115.54,815.06 1117.24,813.95 1118.95,813.11 1120.65,812.55 1122.35,812.31 1124.06,812.43 1125.76,812.99 1127.46,814.11 1129.17,815.91 1130.87,818.44 1132.58,821.62 1134.28,825.37 1135.98,829.60 1137.69,834.15 1139.39,838.82 1141.09,843.42 1142.80,847.87 1144.50,852.32 1146.20,856.96 1147.91,861.94 1149.61,867.17 1151.32,872.36 1153.02,877.26 1154.72,881.69 1156.43,885.67 1158.13,889.28 1159.83,892.56 1161.54,895.56 1163.24,898.29 1164.94,900.78 1166.65,903.05 1168.35,905.11 1170.05,906.97 1171.76,908.64 1173.46,910.12 1175.17,911.43 1176.87,912.57 1178.57,913.54 1180.28,914.35 1181.98,914.99 1183.68,915.48 1185.39,915.86 1187.09,916.15 1188.79,916.36 1190.50,916.54 1192.20,916.69 1193.91,916.81 1195.61,916.89 1197.31,916.89 1199.02,916.80 1200.72,916.59 1202.42,916.25 1204.13,915.80 1205.83,915.27 1207.53,914.69 1209.24,914.11 1210.94,913.54 1212.64,913.01 1214.35,912.47 1216.05,911.89 1217.76,911.22 1219.46,910.39 1221.16,909.38 1222.87,908.15 1224.57,906.73 1226.27,905.17 1227.98,903.51 1229.68,901.79 1231.38,900.06 1233.09,898.34 1234.79,896.63 1236.50,894.93 1238.20,893.24 1239.90,891.55 1241.61,889.85 1243.31,888.16 1245.01,886.51 1246.72,884.93 1248.42,883.45 1250.12,882.10 1251.83,880.90 1253.53,879.88 1255.23,879.02 1256.94,878.33 1258.64,877.79 1260.35,877.40 1262.05,877.16 1263.75,877.07 1265.46,877.12 1267.16,877.31 1268.86,877.66 1270.57,878.12 1272.27,878.68 1273.97,879.30 1275.68,879.94 1277.38,880.57 1279.09,881.16 1280.79,881.70 1282.49,882.17 1284.20,882.56 1285.90,882.86 1287.60,883.04 1289.31,883.11 1291.01,883.05 1292.71,882.86 1294.42,882.53 1296.12,882.07 1297.82,881.47 1299.53,880.75 1301.23,879.95 1302.94,879.10 1304.64,878.22 1306.34,877.35 1308.05,876.52 1309.75,875.74 1311.45,875.02 1313.16,874.37 1314.86,873.81 1316.56,873.36 1318.27,873.01 1319.97,872.75 1321.68,872.59 1323.38,872.49 1325.08,872.45 1326.79,872.47 1328.49,872.51 1330.19,872.56 1331.90,872.59 1333.60,872.59 1335.30,872.52 1337.01,872.37 1338.71,872.11 1340.41,871.74 1342.12,871.25 1343.82,870.62 1345.53,869.84 1347.23,868.92 1348.93,867.86 1350.64,866.67 1352.34,865.35 1354.04,863.92 1355.75,862.42 1357.45,860.89 1359.15,859.37 1360.86,857.91 1362.56,856.54 1364.27,855.27 1365.97,854.13 1367.67,853.12 1369.38,852.27 1371.08,851.58 1372.78,851.05 1374.49,850.66 1376.19,850.41 1377.89,850.31 1379.60,850.34 1381.30,850.53 1383.00,850.88 1384.71,851.43 1386.41,852.21 1388.12,853.26 1389.82,854.60 1391.52,856.18 1393.23,857.95 1394.93,859.83 1396.63,861.76 1398.34,863.70 1400.04,865.63 1401.74,867.54 1403.45,869.44 1405.15,871.32 1406.86,873.15 1408.56,874.92 1410.26,876.58 1411.97,878.12 1413.67,879.50 1415.37,880.72 1417.08,881.79 1418.78,882.72 1420.48,883.52 1422.19,884.20 1423.89,884.78 1425.59,885.28 1427.30,885.73 1429.00,886.15 1430.71,886.56 1432.41,886.97 1434.11,887.40 1435.82,887.83 1437.52,888.28 1439.22,888.75 1440.93,889.23 1442.63,889.73 1444.33,890.24 1446.04,890.75 1447.74,891.24 1449.45,891.72 1451.15,892.18 1452.85,892.59 1454.56,892.97 1456.26,893.31 1457.96,893.62 1459.67,893.89 1461.37,894.13 1463.07,894.35 1464.78,894.54 1466.48,894.71 1468.18,894.85 1469.89,894.98 1471.59,895.10 1473.30,895.20 1475.00,895.28 1476.70,895.36 1478.41,895.43 1480.11,895.50 1481.81,895.56 1483.52,895.62 1485.22,895.67 1486.92,895.70 1488.63,895.72 1490.33,895.73 1492.04,895.71 1493.74,895.66 1495.44,895.58 1497.15,895.47 1498.85,895.33 1500.55,895.16 1502.26,894.97 1503.96,894.75 1505.66,894.53 1507.37,894.29 1509.07,894.05 1510.77,893.80 1512.48,893.53 1514.18,893.23 1515.89,892.88 1517.59,892.46 1519.29,891.97 1521.00,891.38 1522.70,890.69 1524.40,889.91 1526.11,889.05 1527.81,888.13 1529.51,887.17 1531.22,886.17 1532.92,885.14 1534.63,884.06 1536.33,882.90 1538.03,881.66 1539.74,880.30 1541.44,878.81 1543.14,877.18 1544.85,875.42 1546.55,873.54 1548.25,871.54 1549.96,869.43 1551.66,867.22 1553.36,864.93 1555.07,862.56 1556.77,860.15 1558.48,857.70 1560.18,855.24 1561.88,852.78 1563.59,850.34 1565.29,847.92 1566.99,845.53 1568.70,843.18 1570.40,840.88 1572.10,838.63 1573.81,836.49 1575.51,834.50 1577.22,832.74 1578.92,831.26 1580.62,830.11 1582.33,829.32 1584.03,828.92 1585.73,828.94 1587.44,829.39 1589.14,830.25 1590.84,831.49 1592.55,833.07 1594.25,834.95 1595.95,837.20 1597.66,839.89 1599.36,843.11 1601.07,846.86 1602.77,850.93 1604.47,855.10 1606.18,859.17 1607.88,863.12 1609.58,867.05 1611.29,871.07 1612.99,875.20 1614.69,879.29 1616.40,883.13 1618.10,886.54 1619.81,889.52 1621.51,892.20 1623.21,894.73 1624.92,897.20 1626.62,899.55 1628.32,901.68 1630.03,903.51 1631.73,905.02 1633.43,906.25 1635.14,907.25 1636.84,908.04 1638.54,908.68 1640.25,909.19 1641.95,909.59 1643.66,909.91 1645.36,910.19 1647.06,910.41 1648.77,910.56 1650.47,910.58 1652.17,910.44 1653.88,910.14 1655.58,909.71 1657.28,909.19 1658.99,908.60 1660.69,907.99 1662.40,907.34 1664.10,906.68 1665.80,905.98 1667.51,905.27 1669.21,904.52 1670.91,903.75 1672.62,902.95 1674.32,902.11 1676.02,901.25 1677.73,900.34 1679.43,899.39 1681.13,898.41 1682.84,897.39 1684.54,896.36 1686.25,895.32 1687.95,894.28 1689.65,893.25 1691.36,892.25 1693.06,891.25 1694.76,890.25 1696.47,889.23 1698.17,888.18 1699.87,887.09 1701.58,885.95 1703.28,884.78 1704.99,883.57 1706.69,882.35 1708.39,881.12 1710.10,879.88 1711.80,878.66 1713.50,877.44 1715.21,876.24 1716.91,875.07 1718.61,873.91 1720.32,872.79 1722.02,871.71 1723.72,870.65 1725.43,869.64 1727.13,868.65 1728.84,867.71 1730.54,866.80 1732.24,865.92 1733.95,865.07 1735.65,864.23 1737.35,863.40 1739.06,862.57 1740.76,861.74 1742.46,860.91 1744.17,860.11 1745.87,859.35 1747.58,858.66 1749.28,858.05 1750.98,857.55 1752.69,857.14 1754.39,856.81 1756.09,856.56 1757.80,856.38 1759.50,856.26 1761.20,856.24 1762.91,856.35 1764.61,856.63 1766.31,857.08 1768.02,857.70 1769.72,858.48 1771.43,859.42 1773.13,860.50 1774.83,861.71 1776.54,863.02 1778.24,864.41 1779.94,865.86 1781.65,867.35 1783.35,868.86 1785.05,870.37 1786.76,871.85 1788.46,873.28 1790.17,874.66 1791.87,875.97 1793.57,877.20 1795.28,878.33 1796.98,879.37 1798.68,880.32 1800.39,881.16 1802.09,881.92 1803.79,882.59 1805.50,883.17 1807.20,883.66 1808.90,884.06 1810.61,884.36 1812.31,884.57 1814.02,884.66 1815.72,884.64 1817.42,884.50 1819.13,884.24 1820.83,883.88 1822.53,883.43 1824.24,882.91 1825.94,882.36 1827.64,881.77 1829.35,881.16 1831.05,880.51 1832.76,879.82 1834.46,879.10 1836.16,878.34 1837.87,877.59 1839.57,876.86 1841.27,876.19 1842.98,875.60 1844.68,875.09 1846.38,874.66 1848.09,874.31 1849.79,874.04 1851.49,873.83 1853.20,873.67 1854.90,873.57 1856.61,873.51 1858.31,873.47 1860.01,873.46 1861.72,873.46 1863.42,873.48 1865.12,873.53 1866.83,873.61 1868.53,873.74 1870.23,873.93 1871.94,874.16 1873.64,874.43 1875.35,874.72 1877.05,875.02 1878.75,875.31 1880.46,875.58 1882.16,875.82 1883.86,876.02 1885.57,876.19 1887.27,876.33 1888.97,876.43 1890.68,876.50 1892.38,876.53 1894.08,876.54 1895.79,876.53 1897.49,876.50 1899.20,876.48 1900.90,876.45 1902.60,876.44 1904.31,876.46 1906.01,876.52 1907.71,876.63 1909.42,876.82 1911.12,877.09 1912.82,877.43 1914.53,877.85 1916.23,878.33 1917.94,878.85 1919.64,879.42 1921.34,880.01 1923.05,880.64 1924.75,881.30 1926.45,882.00 1928.16,882.73 1929.86,883.50 1931.56,884.31 1933.27,885.15 1934.97,886.01 1936.67,886.88 1938.38,887.75 1940.08,888.61 1941.79,889.45 1943.49,890.26 1945.19,891.03 1946.90,891.75 1948.60,892.41 1950.30,892.51 1952.01,892.51" stroke="#000" stroke-width="2.3" stroke-dasharray="9.1,4.38"/>
<path d="M474.99,898.56 476.69,898.64 478.39,898.73 480.10,898.82 481.80,898.91 483.50,899.01 485.21,899.11 486.91,899.22 488.61,899.33 490.32,899.44 492.02,899.55 493.73,899.67 495.43,899.79 497.13,899.91 498.84,900.03 500.54,900.16 502.24,900.28 503.95,900.41 505.65,900.53 507.35,900.65 509.06,900.78 510.76,900.90 512.47,901.02 514.17,901.14 515.87,901.26 517.58,901.37 519.28,901.49 520.98,901.60 522.69,901.71 524.39,901.81 526.09,901.91 527.80,902.00 529.50,902.10 531.20,902.18 532.91,902.26 534.61,902.34 536.32,902.42 538.02,902.49 539.72,902.56 541.43,902.63 543.13,902.70 544.83,902.77 546.54,902.84 548.24,902.91 549.94,902.99 551.65,903.07 553.35,903.15 555.06,903.24 556.76,903.33 558.46,903.42 560.17,903.53 561.87,903.64 563.57,903.75 565.28,903.87 566.98,903.99 568.68,904.10 570.39,904.21 572.09,904.30 573.79,904.38 575.50,904.45 577.20,904.50 578.91,904.53 580.61,904.54 582.31,904.52 584.02,904.48 585.72,904.44 587.42,904.40 589.13,904.37 590.83,904.35 592.53,904.37 594.24,904.42 595.94,904.51 597.65,904.65 599.35,904.84 601.05,905.06 602.76,905.31 604.46,905.57 606.16,905.82 607.87,906.07 609.57,906.30 611.27,906.49 612.98,906.66 614.68,906.79 616.38,906.89 618.09,906.94 619.79,906.95 621.50,906.91 623.20,906.83 624.90,906.71 626.61,906.56 628.31,906.38 630.01,906.19 631.72,905.99 633.42,905.77 635.12,905.53 636.83,905.26 638.53,904.94 640.24,904.59 641.94,904.16 643.64,903.60 645.35,902.83 647.05,901.74 648.75,900.25 650.46,898.29 652.16,895.81 653.86,892.78 655.57,889.18 657.27,885.06 658.97,880.44 660.68,875.23 662.38,869.30 664.09,862.59 665.79,855.17 667.49,847.04 669.20,838.16 670.90,828.49 672.60,818.15 674.31,807.36 676.01,796.30 677.71,785.12 679.42,773.96 681.12,762.94 682.83,752.18 684.53,741.94 686.23,732.56 687.94,724.40 689.64,717.85 691.34,713.13 693.05,709.86 694.75,707.58 696.45,706.26 698.16,706.11 699.86,707.30 701.56,709.97 703.27,714.19 704.97,719.72 706.68,726.27 708.38,733.83 710.08,742.63 711.79,752.62 713.49,763.27 715.19,774.11 716.90,785.22 718.60,796.86 720.30,808.88 722.01,820.75 723.71,832.10 725.42,842.86 727.12,852.99 728.82,862.24 730.53,870.33 732.23,877.26 733.93,883.32 735.64,888.72 737.34,893.39 739.04,897.23 740.75,900.21 742.45,902.46 744.15,904.10 745.86,905.29 747.56,906.13 749.27,906.72 750.97,907.15 752.67,907.53 754.38,907.94 756.08,908.37 757.78,908.81 759.49,909.24 761.19,909.63 762.89,909.98 764.60,910.25 766.30,910.45 768.01,910.58 769.71,910.64 771.41,910.62 773.12,910.53 774.82,910.36 776.52,910.13 778.23,909.85 779.93,909.54 781.63,909.19 783.34,908.83 785.04,908.47 786.74,908.10 788.45,907.74 790.15,907.39 791.86,907.04 793.56,906.71 795.26,906.41 796.97,906.12 798.67,905.86 800.37,905.63 802.08,905.41 803.78,905.20 805.48,905.01 807.19,904.81 808.89,904.62 810.60,904.42 812.30,904.21 814.00,903.98 815.71,903.74 817.41,903.45 819.11,903.12 820.82,902.74 822.52,902.29 824.22,901.76 825.93,901.15 827.63,900.47 829.33,899.73 831.04,898.97 832.74,898.22 834.45,897.49 836.15,896.81 837.85,896.21 839.56,895.69 841.26,895.25 842.96,894.87 844.67,894.55 846.37,894.27 848.07,894.03 849.78,893.81 851.48,893.60 853.19,893.38 854.89,893.13 856.59,892.82 858.30,892.43 860.00,891.96 861.70,891.43 863.41,890.88 865.11,890.33 866.81,889.82 868.52,889.38 870.22,889.02 871.92,888.73 873.63,888.52 875.33,888.35 877.04,888.23 878.74,888.15 880.44,888.08 882.15,888.03 883.85,887.99 885.55,887.96 887.26,887.94 888.96,887.93 890.66,887.92 892.37,887.91 894.07,887.89 895.78,887.88 897.48,887.87 899.18,887.85 900.89,887.82 902.59,887.78 904.29,887.74 906.00,887.68 907.70,887.61 909.40,887.53 911.11,887.44 912.81,887.32 914.51,887.20 916.22,887.06 917.92,886.91 919.63,886.75 921.33,886.59 923.03,886.42 924.74,886.24 926.44,886.06 928.14,885.88 929.85,885.69 931.55,885.48 933.25,885.26 934.96,885.02 936.66,884.75 938.37,884.45 940.07,884.11 941.77,883.74 943.48,883.32 945.18,882.88 946.88,882.42 948.59,881.94 950.29,881.46 951.99,880.97 953.70,880.48 955.40,879.99 957.10,879.47 958.81,878.94 960.51,878.38 962.22,877.80 963.92,877.20 965.62,876.58 967.33,875.95 969.03,875.30 970.73,874.65 972.44,874.00 974.14,873.35 975.84,872.70 977.55,872.05 979.25,871.40 980.96,870.75 982.66,870.09 984.36,869.43 986.07,868.76 987.77,868.09 989.47,867.43 991.18,866.77 992.88,866.12 994.58,865.48 996.29,864.86 997.99,864.26 999.69,863.68 1001.40,863.14 1003.10,862.65 1004.81,862.20 1006.51,861.80 1008.21,861.46 1009.92,861.17 1011.62,860.93 1013.32,860.72 1015.03,860.55 1016.73,860.40 1018.43,860.26 1020.14,860.15 1021.84,860.07 1023.55,860.02 1025.25,860.01 1026.95,860.04 1028.66,860.12 1030.36,860.23 1032.06,860.37 1033.77,860.54 1035.47,860.72 1037.17,860.91 1038.88,861.11 1040.58,861.33 1042.28,861.59 1043.99,861.89 1045.69,862.25 1047.40,862.67 1049.10,863.17 1050.80,863.72 1052.51,864.32 1054.21,864.95 1055.91,865.61 1057.62,866.29 1059.32,866.97 1061.02,867.66 1062.73,868.35 1064.43,869.03 1066.14,869.70 1067.84,870.36 1069.54,871.00 1071.25,871.62 1072.95,872.23 1074.65,872.82 1076.36,873.40 1078.06,873.96 1079.76,874.50 1081.47,875.02 1083.17,875.52 1084.87,876.01 1086.58,876.47 1088.28,876.91 1089.99,877.34 1091.69,877.75 1093.39,878.15 1095.10,878.54 1096.80,878.92 1098.50,879.29 1100.21,879.66 1101.91,880.01 1103.61,880.35 1105.32,880.66 1107.02,880.94 1108.73,881.20 1110.43,881.43 1112.13,881.63 1113.84,881.82 1115.54,881.98 1117.24,882.13 1118.95,882.27 1120.65,882.39 1122.35,882.50 1124.06,882.60 1125.76,882.68 1127.46,882.76 1129.17,882.83 1130.87,882.89 1132.58,882.94 1134.28,882.98 1135.98,883.02 1137.69,883.05 1139.39,883.08 1141.09,883.09 1142.80,883.10 1144.50,883.11 1146.20,883.11 1147.91,883.10 1149.61,883.09 1151.32,883.08 1153.02,883.06 1154.72,883.03 1156.43,883.00 1158.13,882.96 1159.83,882.92 1161.54,882.87 1163.24,882.82 1164.94,882.75 1166.65,882.68 1168.35,882.61 1170.05,882.52 1171.76,882.43 1173.46,882.32 1175.17,882.22 1176.87,882.10 1178.57,881.98 1180.28,881.86 1181.98,881.73 1183.68,881.61 1185.39,881.48 1187.09,881.35 1188.79,881.23 1190.50,881.10 1192.20,880.98 1193.91,880.86 1195.61,880.75 1197.31,880.64 1199.02,880.53 1200.72,880.43 1202.42,880.33 1204.13,880.23 1205.83,880.14 1207.53,880.05 1209.24,879.96 1210.94,879.87 1212.64,879.79 1214.35,879.71 1216.05,879.63 1217.76,879.56 1219.46,879.49 1221.16,879.42 1222.87,879.35 1224.57,879.29 1226.27,879.23 1227.98,879.17 1229.68,879.11 1231.38,879.06 1233.09,879.01 1234.79,878.96 1236.50,878.92 1238.20,878.88 1239.90,878.84 1241.61,878.82 1243.31,878.80 1245.01,878.79 1246.72,878.79 1248.42,878.79 1250.12,878.81 1251.83,878.84 1253.53,878.89 1255.23,878.94 1256.94,879.01 1258.64,879.09 1260.35,879.17 1262.05,879.27 1263.75,879.37 1265.46,879.48 1267.16,879.59 1268.86,879.71 1270.57,879.83 1272.27,879.95 1273.97,880.06 1275.68,880.18 1277.38,880.30 1279.09,880.41 1280.79,880.52 1282.49,880.63 1284.20,880.73 1285.90,880.82 1287.60,880.91 1289.31,881.00 1291.01,881.08 1292.71,881.16 1294.42,881.24 1296.12,881.32 1297.82,881.39 1299.53,881.46 1301.23,881.52 1302.94,881.59 1304.64,881.65 1306.34,881.70 1308.05,881.76 1309.75,881.80 1311.45,881.84 1313.16,881.87 1314.86,881.89 1316.56,881.90 1318.27,881.90 1319.97,881.88 1321.68,881.86 1323.38,881.82 1325.08,881.77 1326.79,881.70 1328.49,881.63 1330.19,881.55 1331.90,881.46 1333.60,881.35 1335.30,881.24 1337.01,881.12 1338.71,880.99 1340.41,880.86 1342.12,880.72 1343.82,880.57 1345.53,880.42 1347.23,880.26 1348.93,880.09 1350.64,879.92 1352.34,879.74 1354.04,879.56 1355.75,879.38 1357.45,879.19 1359.15,879.00 1360.86,878.80 1362.56,878.60 1364.27,878.40 1365.97,878.20 1367.67,877.99 1369.38,877.78 1371.08,877.58 1372.78,877.37 1374.49,877.16 1376.19,876.96 1377.89,876.75 1379.60,876.55 1381.30,876.35 1383.00,876.15 1384.71,875.96 1386.41,875.77 1388.12,875.58 1389.82,875.41 1391.52,875.23 1393.23,875.07 1394.93,874.91 1396.63,874.76 1398.34,874.62 1400.04,874.48 1401.74,874.36 1403.45,874.25 1405.15,874.14 1406.86,874.05 1408.56,873.96 1410.26,873.87 1411.97,873.79 1413.67,873.72 1415.37,873.65 1417.08,873.58 1418.78,873.52 1420.48,873.46 1422.19,873.39 1423.89,873.33 1425.59,873.28 1427.30,873.23 1429.00,873.18 1430.71,873.14 1432.41,873.10 1434.11,873.08 1435.82,873.06 1437.52,873.06 1439.22,873.06 1440.93,873.08 1442.63,873.10 1444.33,873.14 1446.04,873.19 1447.74,873.24 1449.45,873.31 1451.15,873.39 1452.85,873.48 1454.56,873.58 1456.26,873.68 1457.96,873.80 1459.67,873.92 1461.37,874.05 1463.07,874.19 1464.78,874.34 1466.48,874.49 1468.18,874.64 1469.89,874.80 1471.59,874.96 1473.30,875.13 1475.00,875.30 1476.70,875.47 1478.41,875.65 1480.11,875.82 1481.81,875.99 1483.52,876.17 1485.22,876.34 1486.92,876.51 1488.63,876.68 1490.33,876.84 1492.04,877.01 1493.74,877.16 1495.44,877.32 1497.15,877.47 1498.85,877.61 1500.55,877.75 1502.26,877.89 1503.96,878.02 1505.66,878.14 1507.37,878.26 1509.07,878.37 1510.77,878.48 1512.48,878.58 1514.18,878.67 1515.89,878.76 1517.59,878.84 1519.29,878.92 1521.00,878.99 1522.70,879.05 1524.40,879.11 1526.11,879.16 1527.81,879.21 1529.51,879.25 1531.22,879.28 1532.92,879.31 1534.63,879.34 1536.33,879.36 1538.03,879.37 1539.74,879.38 1541.44,879.39 1543.14,879.39 1544.85,879.39 1546.55,879.39 1548.25,879.38 1549.96,879.37 1551.66,879.36 1553.36,879.35 1555.07,879.33 1556.77,879.32 1558.48,879.30 1560.18,879.28 1561.88,879.26 1563.59,879.24 1565.29,879.22 1566.99,879.20 1568.70,879.18 1570.40,879.16 1572.10,879.14 1573.81,879.12 1575.51,879.10 1577.22,879.08 1578.92,879.06 1580.62,879.04 1582.33,879.03 1584.03,879.01 1585.73,878.99 1587.44,878.97 1589.14,878.96 1590.84,878.94 1592.55,878.93 1594.25,878.91 1595.95,878.90 1597.66,878.89 1599.36,878.88 1601.07,878.87 1602.77,878.86 1604.47,878.86 1606.18,878.85 1607.88,878.85 1609.58,878.84 1611.29,878.84 1612.99,878.84 1614.69,878.84 1616.40,878.84 1618.10,878.84 1619.81,878.84 1621.51,878.84 1623.21,878.84 1624.92,878.85 1626.62,878.85 1628.32,878.85 1630.03,878.85 1631.73,878.86 1633.43,878.86 1635.14,878.86 1636.84,878.87 1638.54,878.87 1640.25,878.87 1641.95,878.87 1643.66,878.87 1645.36,878.87 1647.06,878.87 1648.77,878.87 1650.47,878.87 1652.17,878.87 1653.88,878.87 1655.58,878.86 1657.28,878.86 1658.99,878.86 1660.69,878.85 1662.40,878.85 1664.10,878.85 1665.80,878.84 1667.51,878.84 1669.21,878.84 1670.91,878.84 1672.62,878.85 1674.32,878.85 1676.02,878.86 1677.73,878.86 1679.43,878.87 1681.13,878.89 1682.84,878.90 1684.54,878.92 1686.25,878.94 1687.95,878.96 1689.65,878.98 1691.36,879.00 1693.06,879.03 1694.76,879.05 1696.47,879.08 1698.17,879.10 1699.87,879.13 1701.58,879.16 1703.28,879.18 1704.99,879.21 1706.69,879.24 1708.39,879.26 1710.10,879.29 1711.80,879.31 1713.50,879.33 1715.21,879.36 1716.91,879.38 1718.61,879.39 1720.32,879.41 1722.02,879.43 1723.72,879.44 1725.43,879.45 1727.13,879.46 1728.84,879.46 1730.54,879.46 1732.24,879.46 1733.95,879.46 1735.65,879.45 1737.35,879.44 1739.06,879.42 1740.76,879.40 1742.46,879.38 1744.17,879.35 1745.87,879.32 1747.58,879.28 1749.28,879.24 1750.98,879.19 1752.69,879.14 1754.39,879.08 1756.09,879.01 1757.80,878.94 1759.50,878.87 1761.20,878.79 1762.91,878.70 1764.61,878.61 1766.31,878.52 1768.02,878.42 1769.72,878.33 1771.43,878.24 1773.13,878.15 1774.83,878.06 1776.54,877.99 1778.24,877.92 1779.94,877.85 1781.65,877.80 1783.35,877.75 1785.05,877.72 1786.76,877.69 1788.46,877.67 1790.17,877.65 1791.87,877.64 1793.57,877.64 1795.28,877.64 1796.98,877.65 1798.68,877.66 1800.39,877.68 1802.09,877.70 1803.79,877.72 1805.50,877.74 1807.20,877.77 1808.90,877.79 1810.61,877.81 1812.31,877.83 1814.02,877.85 1815.72,877.86 1817.42,877.87 1819.13,877.87 1820.83,877.87 1822.53,877.85 1824.24,877.83 1825.94,877.81 1827.64,877.78 1829.35,877.75 1831.05,877.71 1832.76,877.67 1834.46,877.62 1836.16,877.57 1837.87,877.52 1839.57,877.47 1841.27,877.42 1842.98,877.36 1844.68,877.31 1846.38,877.26 1848.09,877.21 1849.79,877.17 1851.49,877.13 1853.20,877.10 1854.90,877.08 1856.61,877.07 1858.31,877.06 1860.01,877.07 1861.72,877.09 1863.42,877.12 1865.12,877.16 1866.83,877.21 1868.53,877.26 1870.23,877.32 1871.94,877.38 1873.64,877.45 1875.35,877.51 1877.05,877.58 1878.75,877.64 1880.46,877.69 1882.16,877.75 1883.86,877.80 1885.57,877.84 1887.27,877.88 1888.97,877.92 1890.68,877.95 1892.38,877.98 1894.08,878.01 1895.79,878.03 1897.49,878.05 1899.20,878.07 1900.90,878.08 1902.60,878.09 1904.31,878.10 1906.01,878.11 1907.71,878.11 1909.42,878.12 1911.12,878.12 1912.82,878.12 1914.53,878.12 1916.23,878.11 1917.94,878.11 1919.64,878.11 1921.34,878.10 1923.05,878.10 1924.75,878.09 1926.45,878.09 1928.16,878.08 1929.86,878.07 1931.56,878.07 1933.27,878.06 1934.97,878.06 1936.67,878.06 1938.38,878.05 1940.08,878.05 1941.79,878.05 1943.49,878.05 1945.19,878.06 1946.90,878.06 1948.60,878.07 1950.30,878.07 1952.01,878.07" stroke="#FF8C00" stroke-width="2.2" stroke-linecap="square"/>
<path d="M413.66,594.14 415.36,599.27 417.06,604.13 418.77,608.64 420.47,612.68 422.17,616.17 423.88,619.01 425.58,621.10 427.29,622.48 428.99,623.23 430.69,623.46 432.40,623.25 434.10,622.70 435.80,621.91 437.51,620.98 439.21,619.99 440.91,619.06 442.62,618.24 444.32,617.58 446.02,617.10 447.73,616.84 449.43,616.82 451.14,617.07 452.84,617.63 454.54,618.52 456.25,619.78 457.95,621.41 459.65,623.29 461.36,625.26 463.06,627.14 464.76,628.75 466.47,629.98 468.17,630.82 469.88,631.30 471.58,631.43 473.28,631.24 474.99,630.81 476.69,630.19 478.39,629.45 480.10,628.66 481.80,627.90 483.50,627.22 485.21,626.70 486.91,626.41 488.61,626.42 490.32,626.76 492.02,627.43 493.73,628.36 495.43,629.52 497.13,630.85 498.84,632.30 500.54,633.81 502.24,635.33 503.95,636.79 505.65,638.12 507.35,639.29 509.06,640.21 510.76,640.84 512.47,641.11 514.17,640.97 515.87,640.42 517.58,639.59 519.28,638.62 520.98,637.64 522.69,636.76 524.39,636.01 526.09,635.43 527.80,635.03 529.50,634.85 531.20,634.91 532.91,635.24 534.61,635.86 536.32,636.81 538.02,638.09 539.72,639.64 541.43,641.38 543.13,643.19 544.83,644.98 546.54,646.65 548.24,648.09 549.94,649.21 551.65,649.90 553.35,650.07 555.06,649.68 556.76,648.79 558.46,647.45 560.17,645.75 561.87,643.74 563.57,641.50 565.28,639.08 566.98,636.56 568.68,633.99 570.39,631.45 572.09,629.00 573.79,626.72 575.50,624.65 577.20,622.88 578.91,621.41 580.61,620.18 582.31,619.08 584.02,618.03 585.72,616.92 587.42,615.68 589.13,614.20 590.83,612.38 592.53,610.18 594.24,607.64 595.94,604.88 597.65,601.98 599.35,599.06 601.05,596.24 602.76,593.66 604.46,591.45 606.16,589.73 607.87,588.63 609.57,588.29 611.27,588.82 612.98,590.33 614.68,592.93 616.38,596.68 618.09,601.58 619.79,607.62 621.50,614.74 623.20,622.93 624.90,631.94 626.61,641.03 628.31,649.36 630.01,656.09 631.72,660.40 633.42,661.74 635.12,659.95 636.83,654.85 638.53,646.30 640.24,634.28 641.94,618.85 643.64,600.23 645.35,578.67 647.05,554.43 648.75,527.77 650.46,498.93 652.16,468.17 653.86,435.74 655.57,401.90 657.27,367.09 658.97,332.79 660.68,300.86 662.38,273.11 664.09,250.50 665.79,232.76 667.49,219.51 669.20,210.39 670.90,205.12 672.60,203.63 674.31,205.94 676.01,212.09 677.71,222.07 679.42,235.90 681.12,253.08 682.83,272.62 684.53,293.51 686.23,314.74 687.94,335.77 689.64,356.37 691.34,376.32 693.05,395.42 694.75,413.46 696.45,430.27 698.16,445.71 699.86,459.67 701.56,471.99 703.27,482.57 704.97,491.34 706.68,498.59 708.38,504.66 710.08,509.87 711.79,514.57 713.49,519.06 715.19,523.45 716.90,527.72 718.60,531.89 720.30,535.94 722.01,539.86 723.71,543.67 725.42,547.34 727.12,550.88 728.82,554.19 730.53,557.10 732.23,559.46 733.93,561.10 735.64,561.84 737.34,561.54 739.04,560.28 740.75,558.32 742.45,555.89 744.15,553.26 745.86,550.61 747.56,548.16 749.27,546.12 750.97,544.64 752.67,543.86 754.38,543.92 756.08,544.92 757.78,546.88 759.49,549.82 761.19,553.78 762.89,558.76 764.60,564.78 766.30,571.70 768.01,579.34 769.71,587.51 771.41,595.99 773.12,604.62 774.82,613.18 776.52,621.52 778.23,629.56 779.93,637.23 781.63,644.44 783.34,651.10 785.04,656.97 786.74,661.68 788.45,665.03 790.15,667.27 791.86,668.67 793.56,669.50 795.26,670.04 796.97,670.57 798.67,671.24 800.37,671.99 802.08,672.75 803.78,673.43 805.48,673.95 807.19,674.19 808.89,674.05 810.60,673.40 812.30,672.15 814.00,670.19 815.71,667.39 817.41,663.67 819.11,658.90 820.82,652.97 822.52,645.78 824.22,637.28 825.93,627.65 827.63,617.13 829.33,605.95 831.04,594.35 832.74,582.69 834.45,571.49 836.15,561.26 837.85,552.18 839.56,544.37 841.26,537.96 842.96,533.06 844.67,529.79 846.37,528.27 848.07,528.59 849.78,530.70 851.48,534.40 853.19,539.52 854.89,545.88 856.59,553.29 858.30,561.58 860.00,570.56 861.70,580.00 863.41,589.56 865.11,598.87 866.81,607.60 868.52,615.47 870.22,622.44 871.92,628.51 873.63,633.68 875.33,637.94 877.04,641.35 878.74,644.05 880.44,646.17 882.15,647.86 883.85,649.25 885.55,650.48 887.26,651.70 888.96,653.03 890.66,654.61 892.37,656.55 894.07,658.79 895.78,661.22 897.48,663.75 899.18,666.28 900.89,668.72 902.59,670.97 904.29,672.93 906.00,674.51 907.70,675.60 909.40,676.12 911.11,675.98 912.81,675.24 914.51,674.02 916.22,672.41 917.92,670.53 919.63,668.50 921.33,666.41 923.03,664.38 924.74,662.51 926.44,660.93 928.14,659.73 929.85,659.01 931.55,658.66 933.25,658.46 934.96,658.17 936.66,657.55 938.37,656.38 940.07,654.42 941.77,651.43 943.48,647.18 945.18,641.44 946.88,633.98 948.59,624.55 950.29,612.92 951.99,598.87 953.70,582.16 955.40,562.55 957.10,539.81 958.81,513.74 960.51,484.17 962.22,451.45 963.92,419.20 965.62,389.73 967.33,363.14 969.03,339.50 970.73,318.86 972.44,301.32 974.14,287.01 975.84,276.06 977.55,268.57 979.25,264.69 980.96,264.54 982.66,268.23 984.36,275.89 986.07,287.65 987.77,303.49 989.47,322.94 991.18,345.43 992.88,370.37 994.58,396.95 996.29,424.17 997.99,451.00 999.69,476.67 1001.40,500.95 1003.10,523.64 1004.81,544.56 1006.51,563.53 1008.21,580.35 1009.92,594.86 1011.62,606.85 1013.32,616.19 1015.03,622.92 1016.73,627.22 1018.43,629.24 1020.14,629.15 1021.84,627.33 1023.55,624.26 1025.25,620.43 1026.95,616.32 1028.66,612.43 1030.36,609.19 1032.06,606.70 1033.77,604.90 1035.47,603.74 1037.17,603.16 1038.88,603.13 1040.58,603.57 1042.28,604.44 1043.99,605.68 1045.69,607.24 1047.40,609.06 1049.10,610.98 1050.80,612.82 1052.51,614.40 1054.21,615.51 1055.91,615.99 1057.62,615.65 1059.32,614.44 1061.02,612.29 1062.73,609.17 1064.43,605.04 1066.14,599.84 1067.84,593.58 1069.54,586.38 1071.25,578.41 1072.95,569.84 1074.65,560.82 1076.36,551.53 1078.06,542.12 1079.76,532.75 1081.47,523.60 1083.17,514.83 1084.87,506.60 1086.58,499.08 1088.28,492.44 1089.99,486.84 1091.69,482.43 1093.39,479.22 1095.10,477.22 1096.80,476.39 1098.50,476.74 1100.21,478.25 1101.91,480.90 1103.61,484.67 1105.32,489.46 1107.02,495.16 1108.73,501.64 1110.43,508.78 1112.13,516.46 1113.84,524.55 1115.54,532.93 1117.24,541.48 1118.95,550.08 1120.65,558.55 1122.35,566.66 1124.06,574.20 1125.76,580.92 1127.46,586.64 1129.17,591.49 1130.87,595.77 1132.58,599.72 1134.28,603.44 1135.98,607.05 1137.69,610.64 1139.39,614.33 1141.09,618.21 1142.80,622.31 1144.50,626.57 1146.20,630.94 1147.91,635.34 1149.61,639.73 1151.32,644.03 1153.02,648.01 1154.72,651.37 1156.43,653.76 1158.13,654.86 1159.83,654.34 1161.54,651.87 1163.24,647.12 1164.94,639.99 1166.65,630.70 1168.35,619.55 1170.05,606.79 1171.76,592.70 1173.46,577.55 1175.17,561.63 1176.87,545.18 1178.57,528.46 1180.28,511.71 1181.98,495.19 1183.68,479.15 1185.39,464.13 1187.09,450.78 1188.79,439.72 1190.50,431.61 1192.20,426.92 1193.91,425.56 1195.61,427.32 1197.31,432.01 1199.02,439.43 1200.72,449.37 1202.42,461.57 1204.13,475.65 1205.83,491.18 1207.53,507.75 1209.24,524.94 1210.94,542.35 1212.64,559.55 1214.35,576.13 1216.05,591.67 1217.76,605.78 1219.46,618.26 1221.16,629.24 1222.87,638.85 1224.57,647.21 1226.27,654.46 1227.98,660.70 1229.68,665.86 1231.38,669.82 1233.09,672.45 1234.79,673.63 1236.50,673.39 1238.20,672.13 1239.90,670.29 1241.61,668.30 1243.31,666.32 1245.01,664.33 1246.72,662.28 1248.42,660.15 1250.12,657.90 1251.83,655.50 1253.53,652.92 1255.23,650.13 1256.94,647.10 1258.64,643.78 1260.35,640.16 1262.05,636.20 1263.75,631.87 1265.46,627.22 1267.16,622.36 1268.86,617.38 1270.57,612.37 1272.27,607.43 1273.97,602.68 1275.68,598.38 1277.38,594.83 1279.09,592.31 1280.79,590.83 1282.49,590.29 1284.20,590.62 1285.90,591.72 1287.60,593.51 1289.31,595.90 1291.01,598.82 1292.71,602.16 1294.42,605.84 1296.12,609.80 1297.82,613.97 1299.53,618.29 1301.23,622.69 1302.94,627.12 1304.64,631.53 1306.34,635.83 1308.05,639.99 1309.75,643.93 1311.45,647.60 1313.16,650.92 1314.86,653.80 1316.56,656.14 1318.27,657.86 1319.97,658.86 1321.68,659.05 1323.38,658.34 1325.08,656.63 1326.79,653.84 1328.49,649.86 1330.19,644.62 1331.90,638.00 1333.60,629.78 1335.30,619.66 1337.01,607.35 1338.71,592.55 1340.41,574.99 1342.12,554.76 1343.82,532.22 1345.53,507.74 1347.23,481.69 1348.93,454.44 1350.64,426.35 1352.34,397.81 1354.04,369.40 1355.75,341.71 1357.45,315.37 1359.15,290.99 1360.86,269.17 1362.56,250.53 1364.27,235.68 1365.97,225.06 1367.67,218.82 1369.38,217.08 1371.08,219.95 1372.78,227.54 1374.49,239.59 1376.19,255.26 1377.89,273.69 1379.60,293.98 1381.30,315.65 1383.00,339.06 1384.71,364.70 1386.41,393.05 1388.12,424.20 1389.82,456.49 1391.52,487.76 1393.23,516.42 1394.93,542.29 1396.63,565.40 1398.34,585.80 1400.04,603.52 1401.74,618.62 1403.45,631.12 1405.15,641.08 1406.86,648.54 1408.56,653.56 1410.26,656.41 1411.97,657.50 1413.67,657.22 1415.37,655.98 1417.08,654.15 1418.78,652.10 1420.48,650.03 1422.19,648.10 1423.89,646.48 1425.59,645.30 1427.30,644.54 1429.00,644.10 1430.71,643.89 1432.41,643.83 1434.11,643.82 1435.82,643.79 1437.52,643.63 1439.22,643.28 1440.93,642.74 1442.63,642.09 1444.33,641.40 1446.04,640.75 1447.74,640.20 1449.45,639.85 1451.15,639.76 1452.85,640.02 1454.56,640.71 1456.26,641.90 1457.96,643.68 1459.67,646.14 1461.37,649.33 1463.07,653.29 1464.78,657.80 1466.48,662.65 1468.18,667.63 1469.89,672.52 1471.59,677.07 1473.30,680.92 1475.00,683.65 1476.70,685.03 1478.41,685.02 1480.11,683.60 1481.81,680.72 1483.52,676.36 1485.22,670.48 1486.92,663.04 1488.63,654.03 1490.33,643.39 1492.04,631.10 1493.74,617.12 1495.44,601.43 1497.15,583.99 1498.85,565.07 1500.55,545.40 1502.26,525.75 1503.96,506.90 1505.66,489.59 1507.37,474.22 1509.07,460.91 1510.77,449.80 1512.48,441.00 1514.18,434.60 1515.89,430.53 1517.59,428.71 1519.29,429.04 1521.00,431.45 1522.70,435.85 1524.40,442.16 1526.11,450.29 1527.81,460.16 1529.51,471.71 1531.22,484.85 1532.92,499.44 1534.63,515.11 1536.33,531.36 1538.03,547.75 1539.74,563.80 1541.44,579.04 1543.14,593.01 1544.85,605.24 1546.55,615.43 1548.25,623.57 1549.96,629.67 1551.66,633.74 1553.36,635.80 1555.07,635.85 1556.77,633.89 1558.48,629.95 1560.18,624.04 1561.88,616.15 1563.59,606.31 1565.29,594.53 1566.99,580.84 1568.70,565.71 1570.40,549.97 1572.10,534.42 1573.81,519.88 1575.51,506.92 1577.22,495.65 1578.92,486.12 1580.62,478.38 1582.33,472.48 1584.03,468.47 1585.73,466.35 1587.44,466.07 1589.14,467.60 1590.84,470.91 1592.55,475.96 1594.25,482.72 1595.95,491.15 1597.66,501.22 1599.36,512.83 1601.07,525.75 1602.77,539.73 1604.47,554.52 1606.18,569.84 1607.88,585.37 1609.58,600.54 1611.29,614.70 1612.99,627.24 1614.69,637.52 1616.40,645.31 1618.10,650.90 1619.81,654.62 1621.51,656.81 1623.21,657.53 1624.92,656.68 1626.62,654.35 1628.32,650.74 1630.03,646.01 1631.73,640.36 1633.43,633.95 1635.14,626.98 1636.84,619.62 1638.54,612.05 1640.25,604.45 1641.95,597.02 1643.66,590.00 1645.36,583.59 1647.06,578.03 1648.77,573.53 1650.47,570.34 1652.17,568.61 1653.88,568.32 1655.58,569.37 1657.28,571.65 1658.99,575.06 1660.69,579.49 1662.40,584.85 1664.10,591.03 1665.80,597.92 1667.51,605.41 1669.21,613.29 1670.91,621.36 1672.62,629.41 1674.32,637.22 1676.02,644.59 1677.73,651.31 1679.43,657.16 1681.13,661.93 1682.84,665.38 1684.54,667.28 1686.25,667.43 1687.95,665.79 1689.65,662.44 1691.36,657.48 1693.06,650.97 1694.76,643.05 1696.47,633.94 1698.17,623.86 1699.87,613.05 1701.58,601.75 1703.28,590.17 1704.99,578.68 1706.69,567.80 1708.39,558.09 1710.10,550.07 1711.80,544.31 1713.50,541.11 1715.21,539.95 1716.91,540.16 1718.61,541.17 1720.32,543.32 1722.02,547.19 1723.72,552.71 1725.43,559.42 1727.13,566.89 1728.84,574.67 1730.54,582.32 1732.24,589.40 1733.95,595.47 1735.65,600.07 1737.35,602.78 1739.06,603.28 1740.76,601.34 1742.46,596.75 1744.17,589.28 1745.87,578.74 1747.58,565.22 1749.28,549.03 1750.98,530.47 1752.69,509.85 1754.39,487.48 1756.09,463.67 1757.80,438.73 1759.50,413.03 1761.20,387.25 1762.91,362.15 1764.61,338.50 1766.31,317.06 1768.02,298.58 1769.72,283.84 1771.43,273.45 1773.13,267.41 1774.83,265.45 1776.54,267.32 1778.24,272.80 1779.94,281.62 1781.65,293.65 1783.35,308.79 1785.05,326.94 1786.76,347.98 1788.46,371.47 1790.17,396.86 1791.87,423.57 1793.57,451.07 1795.28,478.78 1796.98,506.16 1798.68,532.70 1800.39,558.10 1802.09,582.09 1803.79,604.41 1805.50,624.79 1807.20,642.99 1808.90,658.73 1810.61,671.75 1812.31,681.90 1814.02,689.42 1815.72,694.68 1817.42,697.99 1819.13,699.72 1820.83,700.21 1822.53,699.80 1824.24,698.84 1825.94,697.67 1827.64,696.54 1829.35,695.49 1831.05,694.56 1832.76,693.77 1834.46,693.13 1836.16,692.67 1837.87,692.42 1839.57,692.39 1841.27,692.61 1842.98,693.10 1844.68,693.65 1846.38,693.56 1848.09,692.08 1849.79,689.09 1851.49,685.66 1853.20,682.57 1854.90,678.48 1856.61,671.96 1858.31,663.11 1860.01,652.23 1861.72,639.65 1863.42,625.70 1865.12,610.69 1866.83,594.97 1868.53,578.89 1870.23,562.80 1871.94,547.04 1873.64,531.97 1875.35,517.90 1877.05,504.91 1878.75,493.07 1880.46,482.41 1882.16,473.00 1883.86,464.89 1885.57,458.28 1887.27,453.59 1888.97,451.26 1890.68,451.72 1892.38,455.42 1894.08,462.49 1895.79,472.22 1897.49,483.70 1899.20,496.05 1900.90,508.37 1902.60,520.06 1904.31,531.45 1906.01,543.06 1907.71,555.39 1909.42,568.94 1911.12,583.49 1912.82,597.90 1914.53,610.93 1916.23,621.97 1917.94,631.16 1919.64,638.64 1921.34,644.57 1923.05,649.12 1924.75,652.44 1926.45,654.71 1928.16,656.09 1929.86,656.76 1931.56,656.89 1933.27,656.65 1934.97,656.21 1936.67,655.73 1938.38,655.35 1940.08,655.12 1941.79,655.13 1943.49,655.42 1945.19,656.08 1946.90,657.17 1948.60,658.76 1950.30,659.06 1952.01,659.06" stroke="#FF0000" stroke-width="2.4" stroke-linecap="square"/>
<path d="M413.66,1072.40 415.36,1069.78 417.06,1067.09 418.77,1064.40 420.47,1061.77 422.17,1059.27 423.88,1056.96 425.58,1054.91 427.29,1053.18 428.99,1051.78 430.69,1050.67 432.40,1049.84 434.10,1049.27 435.80,1048.98 437.51,1049.01 439.21,1049.36 440.91,1050.04 442.62,1051.04 444.32,1052.33 446.02,1053.82 447.73,1055.37 449.43,1056.85 451.14,1058.11 452.84,1059.11 454.54,1059.87 456.25,1060.43 457.95,1060.81 459.65,1060.99 461.36,1060.99 463.06,1060.79 464.76,1060.37 466.47,1059.73 468.17,1058.86 469.88,1057.82 471.58,1056.75 473.28,1055.80 474.99,1055.09 476.69,1054.67 478.39,1054.46 480.10,1054.39 481.80,1054.41 483.50,1054.59 485.21,1055.00 486.91,1055.73 488.61,1056.77 490.32,1057.99 492.02,1059.25 493.73,1060.41 495.43,1061.44 497.13,1062.32 498.84,1063.04 500.54,1063.56 502.24,1063.82 503.95,1063.73 505.65,1063.29 507.35,1062.54 509.06,1061.54 510.76,1060.37 512.47,1059.10 514.17,1057.83 515.87,1056.65 517.58,1055.66 519.28,1054.88 520.98,1054.30 522.69,1053.91 524.39,1053.73 526.09,1053.76 527.80,1054.05 529.50,1054.59 531.20,1055.36 532.91,1056.35 534.61,1057.53 536.32,1058.82 538.02,1060.15 539.72,1061.45 541.43,1062.66 543.13,1063.74 544.83,1064.64 546.54,1065.31 548.24,1065.73 549.94,1065.84 551.65,1065.62 553.35,1065.08 555.06,1064.24 556.76,1063.15 558.46,1061.85 560.17,1060.40 561.87,1058.88 563.57,1057.36 565.28,1055.89 566.98,1054.49 568.68,1053.19 570.39,1052.01 572.09,1051.01 573.79,1050.21 575.50,1049.67 577.20,1049.38 578.91,1049.34 580.61,1049.52 582.31,1049.93 584.02,1050.57 585.72,1051.45 587.42,1052.59 589.13,1054.03 590.83,1055.78 592.53,1057.85 594.24,1060.15 595.94,1062.60 597.65,1065.12 599.35,1067.66 601.05,1070.23 602.76,1072.81 604.46,1075.40 606.16,1077.98 607.87,1080.50 609.57,1082.95 611.27,1085.31 612.98,1087.55 614.68,1089.65 616.38,1091.59 618.09,1093.34 619.79,1094.88 621.50,1096.17 623.20,1097.18 624.90,1097.85 626.61,1098.13 628.31,1097.97 630.01,1097.35 631.72,1096.25 633.42,1094.66 635.12,1092.60 636.83,1090.12 638.53,1087.33 640.24,1084.32 641.94,1081.17 643.64,1078.01 645.35,1074.91 647.05,1071.98 648.75,1069.29 650.46,1066.88 652.16,1064.80 653.86,1063.08 655.57,1061.69 657.27,1060.60 658.97,1059.79 660.68,1059.25 662.38,1059.01 664.09,1059.06 665.79,1059.41 667.49,1059.99 669.20,1060.76 670.90,1061.66 672.60,1062.64 674.31,1063.60 676.01,1064.49 677.71,1065.24 679.42,1065.80 681.12,1066.18 682.83,1066.39 684.53,1066.42 686.23,1066.29 687.94,1066.01 689.64,1065.63 691.34,1065.19 693.05,1064.73 694.75,1064.26 696.45,1063.81 698.16,1063.39 699.86,1063.00 701.56,1062.64 703.27,1062.35 704.97,1062.13 706.68,1062.02 708.38,1062.02 710.08,1062.16 711.79,1062.39 713.49,1062.70 715.19,1063.06 716.90,1063.43 718.60,1063.80 720.30,1064.13 722.01,1064.42 723.71,1064.64 725.42,1064.78 727.12,1064.81 728.82,1064.72 730.53,1064.55 732.23,1064.29 733.93,1063.99 735.64,1063.65 737.34,1063.31 739.04,1062.97 740.75,1062.66 742.45,1062.36 744.15,1062.10 745.86,1061.88 747.56,1061.71 749.27,1061.61 750.97,1061.61 752.67,1061.71 754.38,1061.90 756.08,1062.19 757.78,1062.54 759.49,1062.96 761.19,1063.41 762.89,1063.89 764.60,1064.37 766.30,1064.82 768.01,1065.22 769.71,1065.56 771.41,1065.81 773.12,1065.98 774.82,1066.07 776.52,1066.08 778.23,1066.00 779.93,1065.82 781.63,1065.52 783.34,1065.05 785.04,1064.37 786.74,1063.47 788.45,1062.37 790.15,1061.08 791.86,1059.65 793.56,1058.18 795.26,1056.86 796.97,1055.86 798.67,1055.07 800.37,1054.16 802.08,1052.97 803.78,1051.64 805.48,1050.34 807.19,1049.26 808.89,1048.48 810.60,1048.04 812.30,1047.99 814.00,1048.35 815.71,1049.11 817.41,1050.26 819.11,1051.76 820.82,1053.56 822.52,1055.54 824.22,1057.59 825.93,1059.62 827.63,1061.55 829.33,1063.32 831.04,1064.84 832.74,1066.09 834.45,1067.09 836.15,1067.84 837.85,1068.35 839.56,1068.59 841.26,1068.55 842.96,1068.21 844.67,1067.59 846.37,1066.75 848.07,1065.75 849.78,1064.64 851.48,1063.50 853.19,1062.39 854.89,1061.40 856.59,1060.60 858.30,1060.07 860.00,1059.82 861.70,1059.82 863.41,1060.05 865.11,1060.47 866.81,1061.12 868.52,1062.00 870.22,1063.13 871.92,1064.45 873.63,1065.88 875.33,1067.32 877.04,1068.68 878.74,1069.89 880.44,1070.94 882.15,1071.80 883.85,1072.45 885.55,1072.87 887.26,1073.04 888.96,1072.97 890.66,1072.66 892.37,1072.15 894.07,1071.50 895.78,1070.75 897.48,1069.97 899.18,1069.23 900.89,1068.61 902.59,1068.16 904.29,1067.98 906.00,1068.13 907.70,1068.64 909.40,1069.48 911.11,1070.61 912.81,1071.96 914.51,1073.44 916.22,1074.97 917.92,1076.47 919.63,1077.88 921.33,1079.18 923.03,1080.31 924.74,1081.26 926.44,1081.98 928.14,1082.43 929.85,1082.57 931.55,1082.42 933.25,1081.97 934.96,1081.24 936.66,1080.24 938.37,1079.01 940.07,1077.58 941.77,1076.00 943.48,1074.33 945.18,1072.62 946.88,1070.90 948.59,1069.21 950.29,1067.63 951.99,1066.27 953.70,1065.26 955.40,1064.66 957.10,1064.41 958.81,1064.44 960.51,1064.67 962.22,1065.03 963.92,1065.45 965.62,1065.86 967.33,1066.20 969.03,1066.43 970.73,1066.51 972.44,1066.42 974.14,1066.11 975.84,1065.60 977.55,1064.87 979.25,1063.95 980.96,1062.86 982.66,1061.67 984.36,1060.47 986.07,1059.32 987.77,1058.26 989.47,1057.30 991.18,1056.47 992.88,1055.81 994.58,1055.43 996.29,1055.41 997.99,1055.81 999.69,1056.60 1001.40,1057.72 1003.10,1059.10 1004.81,1060.69 1006.51,1062.38 1008.21,1064.11 1009.92,1065.79 1011.62,1067.34 1013.32,1068.68 1015.03,1069.72 1016.73,1070.43 1018.43,1070.79 1020.14,1070.78 1021.84,1070.40 1023.55,1069.68 1025.25,1068.64 1026.95,1067.34 1028.66,1065.80 1030.36,1064.10 1032.06,1062.28 1033.77,1060.41 1035.47,1058.56 1037.17,1056.80 1038.88,1055.21 1040.58,1053.83 1042.28,1052.69 1043.99,1051.81 1045.69,1051.20 1047.40,1050.85 1049.10,1050.76 1050.80,1050.90 1052.51,1051.26 1054.21,1051.79 1055.91,1052.46 1057.62,1053.24 1059.32,1054.09 1061.02,1054.99 1062.73,1055.93 1064.43,1056.87 1066.14,1057.79 1067.84,1058.71 1069.54,1059.64 1071.25,1060.58 1072.95,1061.56 1074.65,1062.58 1076.36,1063.66 1078.06,1064.82 1079.76,1066.08 1081.47,1067.45 1083.17,1068.90 1084.87,1070.37 1086.58,1071.80 1088.28,1073.12 1089.99,1074.26 1091.69,1075.21 1093.39,1075.97 1095.10,1076.55 1096.80,1076.94 1098.50,1077.07 1100.21,1076.89 1101.91,1076.37 1103.61,1075.55 1105.32,1074.45 1107.02,1073.10 1108.73,1071.54 1110.43,1069.80 1112.13,1067.92 1113.84,1065.99 1115.54,1064.10 1117.24,1062.37 1118.95,1060.86 1120.65,1059.60 1122.35,1058.61 1124.06,1057.92 1125.76,1057.51 1127.46,1057.39 1129.17,1057.52 1130.87,1057.86 1132.58,1058.32 1134.28,1058.83 1135.98,1059.34 1137.69,1059.77 1139.39,1060.08 1141.09,1060.22 1142.80,1060.16 1144.50,1059.86 1146.20,1059.32 1147.91,1058.54 1149.61,1057.53 1151.32,1056.32 1153.02,1054.96 1154.72,1053.52 1156.43,1052.07 1158.13,1050.67 1159.83,1049.43 1161.54,1048.43 1163.24,1047.74 1164.94,1047.40 1166.65,1047.44 1168.35,1047.95 1170.05,1049.09 1171.76,1051.02 1173.46,1053.68 1175.17,1056.83 1176.87,1060.23 1178.57,1063.67 1180.28,1066.96 1181.98,1069.93 1183.68,1072.43 1185.39,1074.39 1187.09,1075.86 1188.79,1076.88 1190.50,1077.52 1192.20,1077.82 1193.91,1077.85 1195.61,1077.65 1197.31,1077.20 1199.02,1076.44 1200.72,1075.32 1202.42,1073.87 1204.13,1072.25 1205.83,1070.60 1207.53,1069.08 1209.24,1067.79 1210.94,1066.85 1212.64,1066.36 1214.35,1066.40 1216.05,1067.04 1217.76,1068.22 1219.46,1069.86 1221.16,1071.83 1222.87,1073.95 1224.57,1076.05 1226.27,1077.99 1227.98,1079.71 1229.68,1081.16 1231.38,1082.31 1233.09,1083.17 1234.79,1083.78 1236.50,1084.14 1238.20,1084.04 1239.90,1083.27 1241.61,1081.94 1243.31,1080.23 1245.01,1078.31 1246.72,1076.27 1248.42,1074.24 1250.12,1072.32 1251.83,1070.60 1253.53,1069.12 1255.23,1067.96 1256.94,1067.16 1258.64,1066.66 1260.35,1066.40 1262.05,1066.37 1263.75,1066.67 1265.46,1067.30 1267.16,1068.20 1268.86,1069.28 1270.57,1070.47 1272.27,1071.65 1273.97,1072.71 1275.68,1073.58 1277.38,1074.22 1279.09,1074.66 1280.79,1074.90 1282.49,1074.92 1284.20,1074.62 1285.90,1074.00 1287.60,1073.09 1289.31,1071.97 1291.01,1070.69 1292.71,1069.34 1294.42,1068.02 1296.12,1066.82 1297.82,1065.82 1299.53,1065.05 1301.23,1064.57 1302.94,1064.38 1304.64,1064.45 1306.34,1064.76 1308.05,1065.24 1309.75,1065.82 1311.45,1066.45 1313.16,1067.06 1314.86,1067.62 1316.56,1068.09 1318.27,1068.41 1319.97,1068.52 1321.68,1068.36 1323.38,1067.87 1325.08,1067.03 1326.79,1065.85 1328.49,1064.33 1330.19,1062.52 1331.90,1060.52 1333.60,1058.45 1335.30,1056.38 1337.01,1054.37 1338.71,1052.49 1340.41,1050.85 1342.12,1049.53 1343.82,1048.61 1345.53,1048.09 1347.23,1047.92 1348.93,1048.04 1350.64,1048.41 1352.34,1049.01 1354.04,1049.80 1355.75,1050.75 1357.45,1051.77 1359.15,1052.75 1360.86,1053.59 1362.56,1054.22 1364.27,1054.71 1365.97,1055.11 1367.67,1055.38 1369.38,1055.26 1371.08,1054.70 1372.78,1053.82 1374.49,1052.75 1376.19,1051.61 1377.89,1050.48 1379.60,1049.44 1381.30,1048.56 1383.00,1047.89 1384.71,1047.48 1386.41,1047.37 1388.12,1047.59 1389.82,1048.24 1391.52,1049.41 1393.23,1051.17 1394.93,1053.47 1396.63,1056.24 1398.34,1059.37 1400.04,1062.65 1401.74,1065.85 1403.45,1068.81 1405.15,1071.49 1406.86,1073.89 1408.56,1076.00 1410.26,1077.77 1411.97,1079.17 1413.67,1080.17 1415.37,1080.81 1417.08,1081.11 1418.78,1081.12 1420.48,1080.91 1422.19,1080.53 1423.89,1080.02 1425.59,1079.44 1427.30,1078.82 1429.00,1078.22 1430.71,1077.68 1432.41,1077.25 1434.11,1076.98 1435.82,1076.85 1437.52,1076.88 1439.22,1077.03 1440.93,1077.24 1442.63,1077.45 1444.33,1077.59 1446.04,1077.63 1447.74,1077.55 1449.45,1077.30 1451.15,1076.83 1452.85,1075.98 1454.56,1074.65 1456.26,1072.79 1457.96,1070.47 1459.67,1067.75 1461.37,1064.72 1463.07,1061.52 1464.78,1058.27 1466.48,1055.10 1468.18,1052.16 1469.89,1049.58 1471.59,1047.42 1473.30,1045.69 1475.00,1044.43 1476.70,1043.64 1478.41,1043.36 1480.11,1043.60 1481.81,1044.39 1483.52,1045.77 1485.22,1047.75 1486.92,1050.26 1488.63,1053.21 1490.33,1056.50 1492.04,1059.96 1493.74,1063.42 1495.44,1066.70 1497.15,1069.66 1498.85,1072.17 1500.55,1074.11 1502.26,1075.54 1503.96,1076.54 1505.66,1077.17 1507.37,1077.46 1509.07,1077.41 1510.77,1077.06 1512.48,1076.48 1514.18,1075.73 1515.89,1074.89 1517.59,1074.01 1519.29,1073.15 1521.00,1072.34 1522.70,1071.64 1524.40,1071.05 1526.11,1070.58 1527.81,1070.25 1529.51,1070.04 1531.22,1069.91 1532.92,1069.82 1534.63,1069.74 1536.33,1069.65 1538.03,1069.51 1539.74,1069.31 1541.44,1069.02 1543.14,1068.60 1544.85,1068.03 1546.55,1067.27 1548.25,1066.37 1549.96,1065.37 1551.66,1064.33 1553.36,1063.29 1555.07,1062.31 1556.77,1061.46 1558.48,1060.78 1560.18,1060.31 1561.88,1060.05 1563.59,1060.01 1565.29,1060.20 1566.99,1060.63 1568.70,1061.30 1570.40,1062.20 1572.10,1063.30 1573.81,1064.54 1575.51,1065.87 1577.22,1067.22 1578.92,1068.50 1580.62,1069.63 1582.33,1070.52 1584.03,1071.12 1585.73,1071.42 1587.44,1071.39 1589.14,1071.03 1590.84,1070.43 1592.55,1069.64 1594.25,1068.74 1595.95,1067.72 1597.66,1066.52 1599.36,1065.09 1601.07,1063.43 1602.77,1061.67 1604.47,1059.95 1606.18,1058.38 1607.88,1057.07 1609.58,1056.13 1611.29,1055.59 1612.99,1055.39 1614.69,1055.48 1616.40,1055.82 1618.10,1056.39 1619.81,1057.16 1621.51,1058.07 1623.21,1059.02 1624.92,1059.93 1626.62,1060.69 1628.32,1061.27 1630.03,1061.66 1631.73,1061.85 1633.43,1061.85 1635.14,1061.70 1636.84,1061.41 1638.54,1060.98 1640.25,1060.38 1641.95,1059.67 1643.66,1058.95 1645.36,1058.31 1647.06,1057.83 1648.77,1057.52 1650.47,1057.39 1652.17,1057.45 1653.88,1057.71 1655.58,1058.17 1657.28,1058.86 1658.99,1059.77 1660.69,1060.81 1662.40,1061.92 1664.10,1062.99 1665.80,1063.96 1667.51,1064.79 1669.21,1065.42 1670.91,1065.83 1672.62,1066.02 1674.32,1066.01 1676.02,1065.81 1677.73,1065.39 1679.43,1064.70 1681.13,1063.75 1682.84,1062.59 1684.54,1061.32 1686.25,1060.01 1687.95,1058.76 1689.65,1057.64 1691.36,1056.73 1693.06,1056.11 1694.76,1055.78 1696.47,1055.77 1698.17,1056.08 1699.87,1056.69 1701.58,1057.57 1703.28,1058.69 1704.99,1060.00 1706.69,1061.43 1708.39,1062.91 1710.10,1064.38 1711.80,1065.75 1713.50,1066.95 1715.21,1067.89 1716.91,1068.54 1718.61,1068.93 1720.32,1069.08 1722.02,1068.99 1723.72,1068.63 1725.43,1068.01 1727.13,1067.13 1728.84,1066.00 1730.54,1064.69 1732.24,1063.30 1733.95,1061.92 1735.65,1060.63 1737.35,1059.48 1739.06,1058.54 1740.76,1057.84 1742.46,1057.45 1744.17,1057.42 1745.87,1057.80 1747.58,1058.57 1749.28,1059.72 1750.98,1061.23 1752.69,1062.99 1754.39,1064.89 1756.09,1066.80 1757.80,1068.63 1759.50,1070.34 1761.20,1071.86 1762.91,1073.16 1764.61,1074.21 1766.31,1075.03 1768.02,1075.62 1769.72,1075.97 1771.43,1076.04 1773.13,1075.81 1774.83,1075.26 1776.54,1074.38 1778.24,1073.17 1779.94,1071.73 1781.65,1070.17 1783.35,1068.61 1785.05,1067.12 1786.76,1065.71 1788.46,1064.42 1790.17,1063.27 1791.87,1062.30 1793.57,1061.57 1795.28,1061.13 1796.98,1061.00 1798.68,1061.21 1800.39,1061.75 1802.09,1062.57 1803.79,1063.63 1805.50,1064.89 1807.20,1066.29 1808.90,1067.75 1810.61,1069.23 1812.31,1070.67 1814.02,1072.03 1815.72,1073.28 1817.42,1074.38 1819.13,1075.35 1820.83,1076.16 1822.53,1076.83 1824.24,1077.36 1825.94,1077.74 1827.64,1077.98 1829.35,1078.08 1831.05,1078.05 1832.76,1077.90 1834.46,1077.63 1836.16,1077.25 1837.87,1076.76 1839.57,1076.16 1841.27,1075.47 1842.98,1074.71 1844.68,1073.90 1846.38,1073.05 1848.09,1072.19 1849.79,1071.32 1851.49,1070.46 1853.20,1069.63 1854.90,1068.84 1856.61,1068.10 1858.31,1067.44 1860.01,1066.87 1861.72,1066.40 1863.42,1066.06 1865.12,1065.81 1866.83,1065.63 1868.53,1065.49 1870.23,1065.38 1871.94,1065.26 1873.64,1065.14 1875.35,1065.01 1877.05,1064.87 1878.75,1064.72 1880.46,1064.53 1882.16,1064.28 1883.86,1063.93 1885.57,1063.46 1887.27,1062.83 1888.97,1062.06 1890.68,1061.17 1892.38,1060.21 1894.08,1059.19 1895.79,1058.14 1897.49,1057.07 1899.20,1055.99 1900.90,1054.92 1902.60,1053.87 1904.31,1052.85 1906.01,1051.87 1907.71,1050.97 1909.42,1050.14 1911.12,1049.41 1912.82,1048.78 1914.53,1048.27 1916.23,1047.88 1917.94,1047.63 1919.64,1047.53 1921.34,1047.61 1923.05,1047.89 1924.75,1048.36 1926.45,1049.06 1928.16,1049.95 1929.86,1051.01 1931.56,1052.19 1933.27,1053.45 1934.97,1054.76 1936.67,1056.09 1938.38,1057.40 1940.08,1058.67 1941.79,1059.91 1943.49,1061.14 1945.19,1062.35 1946.90,1063.58 1948.60,1064.81 1950.30,1065.01 1952.01,1065.01" stroke="#000" stroke-width="2.45" stroke-linecap="square"/>
<line x1="245.0" y1="568.0" x2="1948.6" y2="568.0" stroke="#000" stroke-width="2.04" stroke-dasharray="2.04,3.36" stroke-dashoffset="0"/>
</g>
<g stroke="#000" stroke-width="3.2" fill="none">
<line x1="245.00" y1="1146.5" x2="245.00" y2="1161.75"/>
<line x1="585.72" y1="1146.5" x2="585.72" y2="1161.75"/>
<line x1="926.44" y1="1146.5" x2="926.44" y2="1161.75"/>
<line x1="1267.16" y1="1146.5" x2="1267.16" y2="1161.75"/>
<line x1="1607.88" y1="1146.5" x2="1607.88" y2="1161.75"/>
<line x1="1948.60" y1="1146.5" x2="1948.60" y2="1161.75"/>
<line x1="245.0" y1="102.02" x2="229.75" y2="102.02"/>
<line x1="245.0" y1="257.35" x2="229.75" y2="257.35"/>
<line x1="245.0" y1="412.67" x2="229.75" y2="412.67"/>
<line x1="245.0" y1="568.00" x2="229.75" y2="568.00"/>
<line x1="245.0" y1="723.33" x2="229.75" y2="723.33"/>
<line x1="245.0" y1="878.65" x2="229.75" y2="878.65"/>
<line x1="245.0" y1="1033.97" x2="229.75" y2="1033.97"/>
</g>
<g stroke="#000" stroke-width="2.5" fill="none">
<line x1="415.36" y1="1146.5" x2="415.36" y2="1155.50"/>
<line x1="756.08" y1="1146.5" x2="756.08" y2="1155.50"/>
<line x1="1096.80" y1="1146.5" x2="1096.80" y2="1155.50"/>
<line x1="1437.52" y1="1146.5" x2="1437.52" y2="1155.50"/>
<line x1="1778.24" y1="1146.5" x2="1778.24" y2="1155.50"/>
</g>
<rect x="245.0" y="18.0" width="1703.60" height="1128.50" fill="none" stroke="#000" stroke-width="3.2" stroke-linejoin="miter"/>
<g font-size="50.4" fill="#000">
<text x="245.50" y="1208.9" text-anchor="middle">0</text>
<text x="586.22" y="1208.9" text-anchor="middle">2</text>
<text x="926.94" y="1208.9" text-anchor="middle">4</text>
<text x="1267.66" y="1208.9" text-anchor="middle">6</text>
<text x="1608.38" y="1208.9" text-anchor="middle">8</text>
<text x="1949.10" y="1208.9" text-anchor="middle">10</text>
<text x="220.6" y="121.92" text-anchor="end">7.5</text>
<text x="220.6" y="277.25" text-anchor="end">5.0</text>
<text x="220.6" y="432.57" text-anchor="end">2.5</text>
<text x="220.6" y="587.90" text-anchor="end">0.0</text>
<text x="220.6" y="743.23" text-anchor="end">−2.5</text>
<text x="220.6" y="898.55" text-anchor="end">−5.0</text>
<text x="220.6" y="1053.88" text-anchor="end">−7.5</text>
</g>
<g fill="#000"><text font-size="50.40" style="white-space:pre"><tspan x="1044.60" y="1288.60" font-style="italic">r</tspan><tspan x="1065.32 1081.34 1098.32 1114.34" y="1288.60"> / Å</tspan></text></g>
<g fill="#000" transform="translate(61.7,669.8) rotate(-90)"><text font-size="50.40" style="white-space:pre"><tspan x="0.00" y="0.00" font-style="italic">G</tspan><tspan x="39.06 55.08 72.06 88.08" y="0.00"> / Å</tspan><tspan x="123.04 152.60" y="-19.29" font-size="35.28">−2</tspan></text></g>
<g fill="#262626" font-size="40.63">
<circle cx="327.23" cy="71.7" r="3.0" fill="#1E90FF"/>
<text x="400.5" y="86.6">observed</text>
<line x1="286.6" y1="132.3" x2="367.86" y2="132.3" stroke="#00FF00" stroke-width="2.3" stroke-linecap="square"/>
<text font-size="40.63" style="white-space:pre"><tspan x="401.10 415.42 437.79 460.16 474.84 490.79 514.87 540.70 565.73 578.66 609.09" y="146.90">fcc-type Ni</tspan><tspan x="620.79" y="152.90" font-size="28.44">x</tspan><tspan x="638.77 667.18" y="146.90">Co</tspan><tspan x="692.46 703.57 727.24 756.65 773.50" y="152.90" font-size="28.44">(1−x)</tspan><tspan x="785.74 798.67 814.54 837.95 876.83 891.51 916.64 956.27" y="146.90"> (Fm-3m)</tspan></text>
<line x1="286.6" y1="195.5" x2="367.86" y2="195.5" stroke="#000" stroke-width="2.3" stroke-dasharray="9.1,4.38"/>
<text font-size="40.63" style="white-space:pre"><tspan x="401.00 431.43 456.37 484.77 496.08 510.76 526.71 550.79 576.61 601.64 614.58 645.01" y="209.80">NaCl-type Ni</tspan><tspan x="656.71" y="216.90" font-size="28.44">x</tspan><tspan x="674.68 703.09" y="209.80">Co</tspan><tspan x="728.38 739.49 763.16 792.57 809.42" y="216.90" font-size="28.44">(1−x)</tspan><tspan x="821.66 853.68 866.61 882.48 905.89 944.77 959.45 984.58 1024.21" y="209.80">O (Fm-3m)</tspan></text>
<line x1="1118.6" y1="71.7" x2="1199.86" y2="71.7" stroke="#FF8C00" stroke-width="2.3" stroke-linecap="square"/>
<text font-size="40.63" style="white-space:pre"><tspan x="1232.90 1247.22 1269.59 1291.96 1306.64 1322.59 1346.67 1372.50 1397.53 1410.46 1440.89" y="86.90">fcc-type Ni</tspan><tspan x="1452.59" y="92.90" font-size="28.44">x</tspan><tspan x="1470.57 1498.98" y="86.90">Co</tspan><tspan x="1524.26" y="92.90" font-size="28.44">y</tspan><tspan x="1542.24 1566.77" y="86.90">Pt</tspan><tspan x="1583.12 1594.23 1617.90 1647.31 1669.71 1699.12 1715.98" y="92.90" font-size="28.44">(1−x−y)</tspan><tspan x="1728.21 1741.14 1757.01 1780.42 1819.30 1833.98 1859.11 1898.74" y="86.90"> (Fm-3m)</tspan></text>
<line x1="1118.6" y1="136.3" x2="1199.86" y2="136.3" stroke="#FF0000" stroke-width="2.3" stroke-linecap="square"/>
<text x="1232.7" y="151.1">simulated</text>
<line x1="1118.6" y1="196.0" x2="1199.86" y2="196.0" stroke="#000" stroke-width="2.3" stroke-linecap="square"/>
<text x="1232.8" y="210.6">difference</text>
</g>
</svg></body></html>
